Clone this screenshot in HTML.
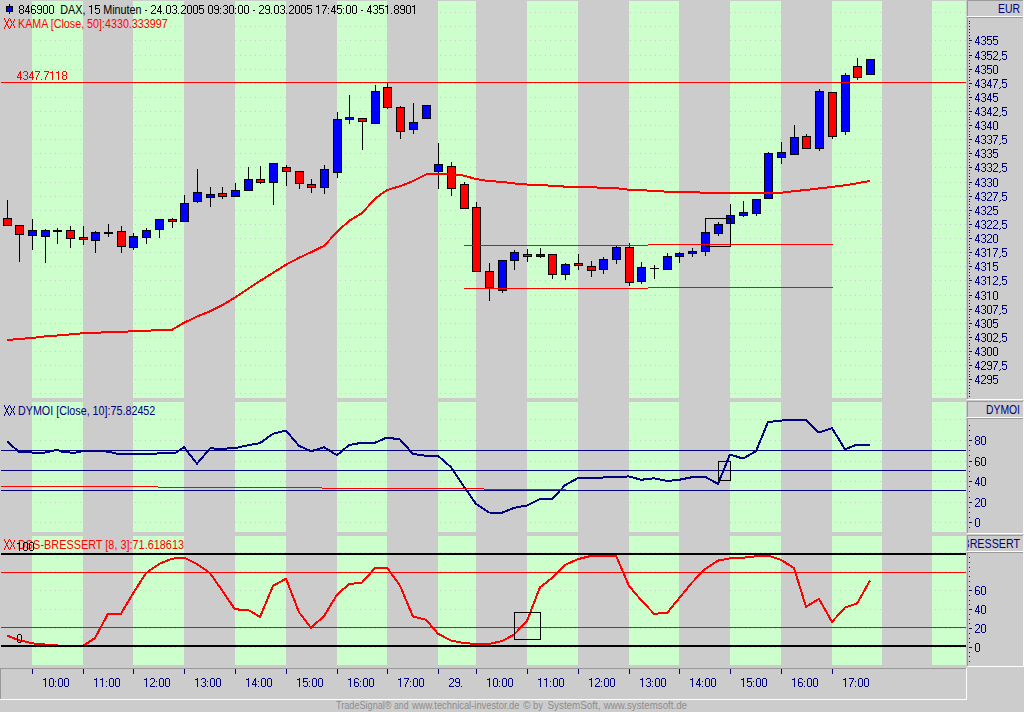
<!DOCTYPE html>
<html><head><meta charset="utf-8"><style>html,body{margin:0;padding:0;background:#cccccc;overflow:hidden}svg{display:block}text{font-family:"Liberation Sans",sans-serif}</style></head>
<body><svg width="1024" height="712" viewBox="0 0 1024 712" shape-rendering="crispEdges" font-family="Liberation Sans, sans-serif"><rect x="0" y="0" width="1024" height="712" fill="#cccccc"/>
<rect x="32" y="1" width="51" height="397" fill="#ccffcc"/>
<rect x="133" y="1" width="51" height="397" fill="#ccffcc"/>
<rect x="235" y="1" width="51" height="397" fill="#ccffcc"/>
<rect x="337" y="1" width="50" height="397" fill="#ccffcc"/>
<rect x="438" y="1" width="38" height="397" fill="#ccffcc"/>
<rect x="527" y="1" width="51" height="397" fill="#ccffcc"/>
<rect x="629" y="1" width="50" height="397" fill="#ccffcc"/>
<rect x="730" y="1" width="51" height="397" fill="#ccffcc"/>
<rect x="832" y="1" width="50" height="397" fill="#ccffcc"/>
<rect x="932" y="1" width="34" height="397" fill="#ccffcc"/>
<rect x="32" y="402" width="51" height="130" fill="#ccffcc"/>
<rect x="133" y="402" width="51" height="130" fill="#ccffcc"/>
<rect x="235" y="402" width="51" height="130" fill="#ccffcc"/>
<rect x="337" y="402" width="50" height="130" fill="#ccffcc"/>
<rect x="438" y="402" width="38" height="130" fill="#ccffcc"/>
<rect x="527" y="402" width="51" height="130" fill="#ccffcc"/>
<rect x="629" y="402" width="50" height="130" fill="#ccffcc"/>
<rect x="730" y="402" width="51" height="130" fill="#ccffcc"/>
<rect x="832" y="402" width="50" height="130" fill="#ccffcc"/>
<rect x="932" y="402" width="34" height="130" fill="#ccffcc"/>
<rect x="32" y="536" width="51" height="129" fill="#ccffcc"/>
<rect x="133" y="536" width="51" height="129" fill="#ccffcc"/>
<rect x="235" y="536" width="51" height="129" fill="#ccffcc"/>
<rect x="337" y="536" width="50" height="129" fill="#ccffcc"/>
<rect x="438" y="536" width="38" height="129" fill="#ccffcc"/>
<rect x="527" y="536" width="51" height="129" fill="#ccffcc"/>
<rect x="629" y="536" width="50" height="129" fill="#ccffcc"/>
<rect x="730" y="536" width="51" height="129" fill="#ccffcc"/>
<rect x="832" y="536" width="50" height="129" fill="#ccffcc"/>
<rect x="932" y="536" width="34" height="129" fill="#ccffcc"/>
<line x1="0" y1="12.5" x2="966" y2="12.5" stroke="#cccccc" stroke-width="1" stroke-dasharray="1 4"/>
<line x1="0" y1="26.5" x2="966" y2="26.5" stroke="#cccccc" stroke-width="1" stroke-dasharray="1 4"/>
<line x1="0" y1="40.5" x2="966" y2="40.5" stroke="#cccccc" stroke-width="1" stroke-dasharray="1 4"/>
<line x1="0" y1="55.5" x2="966" y2="55.5" stroke="#cccccc" stroke-width="1" stroke-dasharray="1 4"/>
<line x1="0" y1="69.5" x2="966" y2="69.5" stroke="#cccccc" stroke-width="1" stroke-dasharray="1 4"/>
<line x1="0" y1="83.5" x2="966" y2="83.5" stroke="#cccccc" stroke-width="1" stroke-dasharray="1 4"/>
<line x1="0" y1="97.5" x2="966" y2="97.5" stroke="#cccccc" stroke-width="1" stroke-dasharray="1 4"/>
<line x1="0" y1="111.5" x2="966" y2="111.5" stroke="#cccccc" stroke-width="1" stroke-dasharray="1 4"/>
<line x1="0" y1="125.5" x2="966" y2="125.5" stroke="#cccccc" stroke-width="1" stroke-dasharray="1 4"/>
<line x1="0" y1="139.5" x2="966" y2="139.5" stroke="#cccccc" stroke-width="1" stroke-dasharray="1 4"/>
<line x1="0" y1="153.5" x2="966" y2="153.5" stroke="#cccccc" stroke-width="1" stroke-dasharray="1 4"/>
<line x1="0" y1="167.5" x2="966" y2="167.5" stroke="#cccccc" stroke-width="1" stroke-dasharray="1 4"/>
<line x1="0" y1="182.5" x2="966" y2="182.5" stroke="#cccccc" stroke-width="1" stroke-dasharray="1 4"/>
<line x1="0" y1="196.5" x2="966" y2="196.5" stroke="#cccccc" stroke-width="1" stroke-dasharray="1 4"/>
<line x1="0" y1="210.5" x2="966" y2="210.5" stroke="#cccccc" stroke-width="1" stroke-dasharray="1 4"/>
<line x1="0" y1="224.5" x2="966" y2="224.5" stroke="#cccccc" stroke-width="1" stroke-dasharray="1 4"/>
<line x1="0" y1="238.5" x2="966" y2="238.5" stroke="#cccccc" stroke-width="1" stroke-dasharray="1 4"/>
<line x1="0" y1="252.5" x2="966" y2="252.5" stroke="#cccccc" stroke-width="1" stroke-dasharray="1 4"/>
<line x1="0" y1="266.5" x2="966" y2="266.5" stroke="#cccccc" stroke-width="1" stroke-dasharray="1 4"/>
<line x1="0" y1="280.5" x2="966" y2="280.5" stroke="#cccccc" stroke-width="1" stroke-dasharray="1 4"/>
<line x1="0" y1="295.5" x2="966" y2="295.5" stroke="#cccccc" stroke-width="1" stroke-dasharray="1 4"/>
<line x1="0" y1="309.5" x2="966" y2="309.5" stroke="#cccccc" stroke-width="1" stroke-dasharray="1 4"/>
<line x1="0" y1="323.5" x2="966" y2="323.5" stroke="#cccccc" stroke-width="1" stroke-dasharray="1 4"/>
<line x1="0" y1="337.5" x2="966" y2="337.5" stroke="#cccccc" stroke-width="1" stroke-dasharray="1 4"/>
<line x1="0" y1="351.5" x2="966" y2="351.5" stroke="#cccccc" stroke-width="1" stroke-dasharray="1 4"/>
<line x1="0" y1="365.5" x2="966" y2="365.5" stroke="#cccccc" stroke-width="1" stroke-dasharray="1 4"/>
<line x1="0" y1="379.5" x2="966" y2="379.5" stroke="#cccccc" stroke-width="1" stroke-dasharray="1 4"/>
<line x1="0" y1="393.5" x2="966" y2="393.5" stroke="#cccccc" stroke-width="1" stroke-dasharray="1 4"/>
<line x1="0" y1="522.5" x2="966" y2="522.5" stroke="#cccccc" stroke-width="1" stroke-dasharray="1 4"/>
<line x1="0" y1="502.5" x2="966" y2="502.5" stroke="#cccccc" stroke-width="1" stroke-dasharray="1 4"/>
<line x1="0" y1="481.5" x2="966" y2="481.5" stroke="#cccccc" stroke-width="1" stroke-dasharray="1 4"/>
<line x1="0" y1="461.5" x2="966" y2="461.5" stroke="#cccccc" stroke-width="1" stroke-dasharray="1 4"/>
<line x1="0" y1="440.5" x2="966" y2="440.5" stroke="#cccccc" stroke-width="1" stroke-dasharray="1 4"/>
<line x1="0" y1="419.5" x2="966" y2="419.5" stroke="#cccccc" stroke-width="1" stroke-dasharray="1 4"/>
<line x1="0" y1="647.5" x2="966" y2="647.5" stroke="#cccccc" stroke-width="1" stroke-dasharray="1 4"/>
<line x1="0" y1="628.5" x2="966" y2="628.5" stroke="#cccccc" stroke-width="1" stroke-dasharray="1 4"/>
<line x1="0" y1="609.5" x2="966" y2="609.5" stroke="#cccccc" stroke-width="1" stroke-dasharray="1 4"/>
<line x1="0" y1="590.5" x2="966" y2="590.5" stroke="#cccccc" stroke-width="1" stroke-dasharray="1 4"/>
<line x1="0" y1="571.5" x2="966" y2="571.5" stroke="#cccccc" stroke-width="1" stroke-dasharray="1 4"/>
<line x1="0" y1="552.5" x2="966" y2="552.5" stroke="#cccccc" stroke-width="1" stroke-dasharray="1 4"/>
<rect x="967" y="0" width="57" height="1" fill="#999999"/>
<rect x="967" y="0" width="1" height="17" fill="#999999"/>
<rect x="967" y="16" width="57" height="1" fill="#ffffff"/>
<rect x="1023" y="0" width="1" height="17" fill="#ffffff"/>
<rect x="967" y="17" width="57" height="1" fill="#999999"/>
<rect x="967" y="17" width="1" height="383" fill="#999999"/>
<rect x="967" y="399" width="57" height="1" fill="#ffffff"/>
<rect x="1023" y="17" width="1" height="383" fill="#ffffff"/>
<rect x="967" y="401" width="57" height="1" fill="#999999"/>
<rect x="967" y="401" width="1" height="17" fill="#999999"/>
<rect x="967" y="417" width="57" height="1" fill="#ffffff"/>
<rect x="1023" y="401" width="1" height="17" fill="#ffffff"/>
<rect x="967" y="418" width="57" height="1" fill="#999999"/>
<rect x="967" y="418" width="1" height="116" fill="#999999"/>
<rect x="967" y="533" width="57" height="1" fill="#ffffff"/>
<rect x="1023" y="418" width="1" height="116" fill="#ffffff"/>
<rect x="967" y="535" width="57" height="1" fill="#999999"/>
<rect x="967" y="535" width="1" height="17" fill="#999999"/>
<rect x="967" y="551" width="57" height="1" fill="#ffffff"/>
<rect x="1023" y="535" width="1" height="17" fill="#ffffff"/>
<rect x="967" y="552" width="57" height="1" fill="#999999"/>
<rect x="967" y="552" width="1" height="115" fill="#999999"/>
<rect x="967" y="666" width="57" height="1" fill="#ffffff"/>
<rect x="1023" y="552" width="1" height="115" fill="#ffffff"/>
<rect x="0" y="668" width="967" height="1" fill="#999999"/>
<rect x="0" y="668" width="1" height="32" fill="#999999"/>
<rect x="0" y="699" width="967" height="1" fill="#ffffff"/>
<rect x="966" y="668" width="1" height="32" fill="#ffffff"/>
<text x="1020" y="13" fill="#000080" font-size="13" text-anchor="end" textLength="22" lengthAdjust="spacingAndGlyphs" filter="url(#crisp)">EUR</text>
<text x="1020" y="414" fill="#000080" font-size="13" text-anchor="end" textLength="34" lengthAdjust="spacingAndGlyphs" filter="url(#crisp)">DYMOI</text>
<clipPath id="cb"><rect x="968" y="536" width="55" height="15"/></clipPath>
<text x="1020" y="548" fill="#000080" font-size="13" text-anchor="end" textLength="57.5" lengthAdjust="spacingAndGlyphs" clip-path="url(#cb)" filter="url(#crisp)">BRESSERT</text>
<rect x="969" y="21" width="1" height="1" fill="#000080"/>
<rect x="969" y="23" width="1" height="1" fill="#000080"/>
<rect x="969" y="26" width="1" height="1" fill="#000080"/>
<rect x="969" y="29" width="1" height="1" fill="#000080"/>
<rect x="969" y="32" width="1" height="1" fill="#000080"/>
<rect x="969" y="35" width="1" height="1" fill="#000080"/>
<rect x="969" y="38" width="1" height="1" fill="#000080"/>
<rect x="969" y="40" width="1" height="1" fill="#000080"/>
<rect x="969" y="43" width="1" height="1" fill="#000080"/>
<rect x="969" y="46" width="1" height="1" fill="#000080"/>
<rect x="969" y="49" width="1" height="1" fill="#000080"/>
<rect x="969" y="52" width="1" height="1" fill="#000080"/>
<rect x="969" y="55" width="1" height="1" fill="#000080"/>
<rect x="969" y="57" width="1" height="1" fill="#000080"/>
<rect x="969" y="60" width="1" height="1" fill="#000080"/>
<rect x="969" y="63" width="1" height="1" fill="#000080"/>
<rect x="969" y="66" width="1" height="1" fill="#000080"/>
<rect x="969" y="69" width="1" height="1" fill="#000080"/>
<rect x="969" y="71" width="1" height="1" fill="#000080"/>
<rect x="969" y="74" width="1" height="1" fill="#000080"/>
<rect x="969" y="77" width="1" height="1" fill="#000080"/>
<rect x="969" y="80" width="1" height="1" fill="#000080"/>
<rect x="969" y="83" width="1" height="1" fill="#000080"/>
<rect x="969" y="86" width="1" height="1" fill="#000080"/>
<rect x="969" y="88" width="1" height="1" fill="#000080"/>
<rect x="969" y="91" width="1" height="1" fill="#000080"/>
<rect x="969" y="94" width="1" height="1" fill="#000080"/>
<rect x="969" y="97" width="1" height="1" fill="#000080"/>
<rect x="969" y="100" width="1" height="1" fill="#000080"/>
<rect x="969" y="103" width="1" height="1" fill="#000080"/>
<rect x="969" y="105" width="1" height="1" fill="#000080"/>
<rect x="969" y="108" width="1" height="1" fill="#000080"/>
<rect x="969" y="111" width="1" height="1" fill="#000080"/>
<rect x="969" y="114" width="1" height="1" fill="#000080"/>
<rect x="969" y="117" width="1" height="1" fill="#000080"/>
<rect x="969" y="119" width="1" height="1" fill="#000080"/>
<rect x="969" y="122" width="1" height="1" fill="#000080"/>
<rect x="969" y="125" width="1" height="1" fill="#000080"/>
<rect x="969" y="128" width="1" height="1" fill="#000080"/>
<rect x="969" y="131" width="1" height="1" fill="#000080"/>
<rect x="969" y="134" width="1" height="1" fill="#000080"/>
<rect x="969" y="136" width="1" height="1" fill="#000080"/>
<rect x="969" y="139" width="1" height="1" fill="#000080"/>
<rect x="969" y="142" width="1" height="1" fill="#000080"/>
<rect x="969" y="145" width="1" height="1" fill="#000080"/>
<rect x="969" y="148" width="1" height="1" fill="#000080"/>
<rect x="969" y="151" width="1" height="1" fill="#000080"/>
<rect x="969" y="153" width="1" height="1" fill="#000080"/>
<rect x="969" y="156" width="1" height="1" fill="#000080"/>
<rect x="969" y="159" width="1" height="1" fill="#000080"/>
<rect x="969" y="162" width="1" height="1" fill="#000080"/>
<rect x="969" y="165" width="1" height="1" fill="#000080"/>
<rect x="969" y="167" width="1" height="1" fill="#000080"/>
<rect x="969" y="170" width="1" height="1" fill="#000080"/>
<rect x="969" y="173" width="1" height="1" fill="#000080"/>
<rect x="969" y="176" width="1" height="1" fill="#000080"/>
<rect x="969" y="179" width="1" height="1" fill="#000080"/>
<rect x="969" y="182" width="1" height="1" fill="#000080"/>
<rect x="969" y="184" width="1" height="1" fill="#000080"/>
<rect x="969" y="187" width="1" height="1" fill="#000080"/>
<rect x="969" y="190" width="1" height="1" fill="#000080"/>
<rect x="969" y="193" width="1" height="1" fill="#000080"/>
<rect x="969" y="196" width="1" height="1" fill="#000080"/>
<rect x="969" y="199" width="1" height="1" fill="#000080"/>
<rect x="969" y="201" width="1" height="1" fill="#000080"/>
<rect x="969" y="204" width="1" height="1" fill="#000080"/>
<rect x="969" y="207" width="1" height="1" fill="#000080"/>
<rect x="969" y="210" width="1" height="1" fill="#000080"/>
<rect x="969" y="213" width="1" height="1" fill="#000080"/>
<rect x="969" y="215" width="1" height="1" fill="#000080"/>
<rect x="969" y="218" width="1" height="1" fill="#000080"/>
<rect x="969" y="221" width="1" height="1" fill="#000080"/>
<rect x="969" y="224" width="1" height="1" fill="#000080"/>
<rect x="969" y="227" width="1" height="1" fill="#000080"/>
<rect x="969" y="230" width="1" height="1" fill="#000080"/>
<rect x="969" y="232" width="1" height="1" fill="#000080"/>
<rect x="969" y="235" width="1" height="1" fill="#000080"/>
<rect x="969" y="238" width="1" height="1" fill="#000080"/>
<rect x="969" y="241" width="1" height="1" fill="#000080"/>
<rect x="969" y="244" width="1" height="1" fill="#000080"/>
<rect x="969" y="247" width="1" height="1" fill="#000080"/>
<rect x="969" y="249" width="1" height="1" fill="#000080"/>
<rect x="969" y="252" width="1" height="1" fill="#000080"/>
<rect x="969" y="255" width="1" height="1" fill="#000080"/>
<rect x="969" y="258" width="1" height="1" fill="#000080"/>
<rect x="969" y="261" width="1" height="1" fill="#000080"/>
<rect x="969" y="263" width="1" height="1" fill="#000080"/>
<rect x="969" y="266" width="1" height="1" fill="#000080"/>
<rect x="969" y="269" width="1" height="1" fill="#000080"/>
<rect x="969" y="272" width="1" height="1" fill="#000080"/>
<rect x="969" y="275" width="1" height="1" fill="#000080"/>
<rect x="969" y="278" width="1" height="1" fill="#000080"/>
<rect x="969" y="280" width="1" height="1" fill="#000080"/>
<rect x="969" y="283" width="1" height="1" fill="#000080"/>
<rect x="969" y="286" width="1" height="1" fill="#000080"/>
<rect x="969" y="289" width="1" height="1" fill="#000080"/>
<rect x="969" y="292" width="1" height="1" fill="#000080"/>
<rect x="969" y="295" width="1" height="1" fill="#000080"/>
<rect x="969" y="297" width="1" height="1" fill="#000080"/>
<rect x="969" y="300" width="1" height="1" fill="#000080"/>
<rect x="969" y="303" width="1" height="1" fill="#000080"/>
<rect x="969" y="306" width="1" height="1" fill="#000080"/>
<rect x="969" y="309" width="1" height="1" fill="#000080"/>
<rect x="969" y="311" width="1" height="1" fill="#000080"/>
<rect x="969" y="314" width="1" height="1" fill="#000080"/>
<rect x="969" y="317" width="1" height="1" fill="#000080"/>
<rect x="969" y="320" width="1" height="1" fill="#000080"/>
<rect x="969" y="323" width="1" height="1" fill="#000080"/>
<rect x="969" y="326" width="1" height="1" fill="#000080"/>
<rect x="969" y="328" width="1" height="1" fill="#000080"/>
<rect x="969" y="331" width="1" height="1" fill="#000080"/>
<rect x="969" y="334" width="1" height="1" fill="#000080"/>
<rect x="969" y="337" width="1" height="1" fill="#000080"/>
<rect x="969" y="340" width="1" height="1" fill="#000080"/>
<rect x="969" y="343" width="1" height="1" fill="#000080"/>
<rect x="969" y="345" width="1" height="1" fill="#000080"/>
<rect x="969" y="348" width="1" height="1" fill="#000080"/>
<rect x="969" y="351" width="1" height="1" fill="#000080"/>
<rect x="969" y="354" width="1" height="1" fill="#000080"/>
<rect x="969" y="357" width="1" height="1" fill="#000080"/>
<rect x="969" y="359" width="1" height="1" fill="#000080"/>
<rect x="969" y="362" width="1" height="1" fill="#000080"/>
<rect x="969" y="365" width="1" height="1" fill="#000080"/>
<rect x="969" y="368" width="1" height="1" fill="#000080"/>
<rect x="969" y="371" width="1" height="1" fill="#000080"/>
<rect x="969" y="374" width="1" height="1" fill="#000080"/>
<rect x="969" y="376" width="1" height="1" fill="#000080"/>
<rect x="969" y="379" width="1" height="1" fill="#000080"/>
<rect x="969" y="382" width="1" height="1" fill="#000080"/>
<rect x="969" y="385" width="1" height="1" fill="#000080"/>
<rect x="969" y="388" width="1" height="1" fill="#000080"/>
<rect x="969" y="391" width="1" height="1" fill="#000080"/>
<rect x="969" y="393" width="1" height="1" fill="#000080"/>
<rect x="969" y="396" width="1" height="1" fill="#000080"/>
<rect x="969" y="40" width="3" height="1" fill="#000080"/>
<path d="M978,36h1v1h-1zM977,37h2v1h-2zM977,38h2v1h-2zM976,39h1v1h-1zM978,39h1v1h-1zM976,40h1v1h-1zM978,40h1v1h-1zM975,41h1v1h-1zM978,41h1v1h-1zM975,42h5v1h-5zM978,43h1v1h-1zM978,44h1v1h-1zM982,36h3v1h-3zM981,37h1v1h-1zM985,37h1v1h-1zM985,38h1v1h-1zM985,39h1v1h-1zM983,40h2v1h-2zM985,41h1v1h-1zM985,42h1v1h-1zM981,43h1v1h-1zM985,43h1v1h-1zM982,44h3v1h-3zM987,36h5v1h-5zM987,37h1v1h-1zM987,38h1v1h-1zM987,39h4v1h-4zM987,40h1v1h-1zM991,40h1v1h-1zM991,41h1v1h-1zM991,42h1v1h-1zM987,43h1v1h-1zM991,43h1v1h-1zM988,44h3v1h-3zM993,36h5v1h-5zM993,37h1v1h-1zM993,38h1v1h-1zM993,39h4v1h-4zM993,40h1v1h-1zM997,40h1v1h-1zM997,41h1v1h-1zM997,42h1v1h-1zM993,43h1v1h-1zM997,43h1v1h-1zM994,44h3v1h-3z" fill="#000080"/>
<rect x="969" y="55" width="3" height="1" fill="#000080"/>
<path d="M978,51h1v1h-1zM977,52h2v1h-2zM977,53h2v1h-2zM976,54h1v1h-1zM978,54h1v1h-1zM976,55h1v1h-1zM978,55h1v1h-1zM975,56h1v1h-1zM978,56h1v1h-1zM975,57h5v1h-5zM978,58h1v1h-1zM978,59h1v1h-1zM982,51h3v1h-3zM981,52h1v1h-1zM985,52h1v1h-1zM985,53h1v1h-1zM985,54h1v1h-1zM983,55h2v1h-2zM985,56h1v1h-1zM985,57h1v1h-1zM981,58h1v1h-1zM985,58h1v1h-1zM982,59h3v1h-3zM987,51h5v1h-5zM987,52h1v1h-1zM987,53h1v1h-1zM987,54h4v1h-4zM987,55h1v1h-1zM991,55h1v1h-1zM991,56h1v1h-1zM991,57h1v1h-1zM987,58h1v1h-1zM991,58h1v1h-1zM988,59h3v1h-3zM994,51h3v1h-3zM993,52h1v1h-1zM997,52h1v1h-1zM997,53h1v1h-1zM997,54h1v1h-1zM996,55h1v1h-1zM995,56h1v1h-1zM994,57h1v1h-1zM993,58h1v1h-1zM993,59h5v1h-5zM1000,59h1v1h-1zM999,60h1v1h-1zM1002,51h5v1h-5zM1002,52h1v1h-1zM1002,53h1v1h-1zM1002,54h4v1h-4zM1002,55h1v1h-1zM1006,55h1v1h-1zM1006,56h1v1h-1zM1006,57h1v1h-1zM1002,58h1v1h-1zM1006,58h1v1h-1zM1003,59h3v1h-3z" fill="#000080"/>
<rect x="969" y="69" width="3" height="1" fill="#000080"/>
<path d="M978,65h1v1h-1zM977,66h2v1h-2zM977,67h2v1h-2zM976,68h1v1h-1zM978,68h1v1h-1zM976,69h1v1h-1zM978,69h1v1h-1zM975,70h1v1h-1zM978,70h1v1h-1zM975,71h5v1h-5zM978,72h1v1h-1zM978,73h1v1h-1zM982,65h3v1h-3zM981,66h1v1h-1zM985,66h1v1h-1zM985,67h1v1h-1zM985,68h1v1h-1zM983,69h2v1h-2zM985,70h1v1h-1zM985,71h1v1h-1zM981,72h1v1h-1zM985,72h1v1h-1zM982,73h3v1h-3zM987,65h5v1h-5zM987,66h1v1h-1zM987,67h1v1h-1zM987,68h4v1h-4zM987,69h1v1h-1zM991,69h1v1h-1zM991,70h1v1h-1zM991,71h1v1h-1zM987,72h1v1h-1zM991,72h1v1h-1zM988,73h3v1h-3zM994,65h3v1h-3zM993,66h1v1h-1zM997,66h1v1h-1zM993,67h1v1h-1zM997,67h1v1h-1zM993,68h1v1h-1zM997,68h1v1h-1zM993,69h1v1h-1zM997,69h1v1h-1zM993,70h1v1h-1zM997,70h1v1h-1zM993,71h1v1h-1zM997,71h1v1h-1zM993,72h1v1h-1zM997,72h1v1h-1zM994,73h3v1h-3z" fill="#000080"/>
<rect x="969" y="83" width="3" height="1" fill="#000080"/>
<path d="M978,79h1v1h-1zM977,80h2v1h-2zM977,81h2v1h-2zM976,82h1v1h-1zM978,82h1v1h-1zM976,83h1v1h-1zM978,83h1v1h-1zM975,84h1v1h-1zM978,84h1v1h-1zM975,85h5v1h-5zM978,86h1v1h-1zM978,87h1v1h-1zM982,79h3v1h-3zM981,80h1v1h-1zM985,80h1v1h-1zM985,81h1v1h-1zM985,82h1v1h-1zM983,83h2v1h-2zM985,84h1v1h-1zM985,85h1v1h-1zM981,86h1v1h-1zM985,86h1v1h-1zM982,87h3v1h-3zM990,79h1v1h-1zM989,80h2v1h-2zM989,81h2v1h-2zM988,82h1v1h-1zM990,82h1v1h-1zM988,83h1v1h-1zM990,83h1v1h-1zM987,84h1v1h-1zM990,84h1v1h-1zM987,85h5v1h-5zM990,86h1v1h-1zM990,87h1v1h-1zM993,79h5v1h-5zM997,80h1v1h-1zM996,81h1v1h-1zM996,82h1v1h-1zM995,83h1v1h-1zM995,84h1v1h-1zM994,85h1v1h-1zM994,86h1v1h-1zM994,87h1v1h-1zM1000,87h1v1h-1zM999,88h1v1h-1zM1002,79h5v1h-5zM1002,80h1v1h-1zM1002,81h1v1h-1zM1002,82h4v1h-4zM1002,83h1v1h-1zM1006,83h1v1h-1zM1006,84h1v1h-1zM1006,85h1v1h-1zM1002,86h1v1h-1zM1006,86h1v1h-1zM1003,87h3v1h-3z" fill="#000080"/>
<rect x="969" y="97" width="3" height="1" fill="#000080"/>
<path d="M978,93h1v1h-1zM977,94h2v1h-2zM977,95h2v1h-2zM976,96h1v1h-1zM978,96h1v1h-1zM976,97h1v1h-1zM978,97h1v1h-1zM975,98h1v1h-1zM978,98h1v1h-1zM975,99h5v1h-5zM978,100h1v1h-1zM978,101h1v1h-1zM982,93h3v1h-3zM981,94h1v1h-1zM985,94h1v1h-1zM985,95h1v1h-1zM985,96h1v1h-1zM983,97h2v1h-2zM985,98h1v1h-1zM985,99h1v1h-1zM981,100h1v1h-1zM985,100h1v1h-1zM982,101h3v1h-3zM990,93h1v1h-1zM989,94h2v1h-2zM989,95h2v1h-2zM988,96h1v1h-1zM990,96h1v1h-1zM988,97h1v1h-1zM990,97h1v1h-1zM987,98h1v1h-1zM990,98h1v1h-1zM987,99h5v1h-5zM990,100h1v1h-1zM990,101h1v1h-1zM993,93h5v1h-5zM993,94h1v1h-1zM993,95h1v1h-1zM993,96h4v1h-4zM993,97h1v1h-1zM997,97h1v1h-1zM997,98h1v1h-1zM997,99h1v1h-1zM993,100h1v1h-1zM997,100h1v1h-1zM994,101h3v1h-3z" fill="#000080"/>
<rect x="969" y="111" width="3" height="1" fill="#000080"/>
<path d="M978,107h1v1h-1zM977,108h2v1h-2zM977,109h2v1h-2zM976,110h1v1h-1zM978,110h1v1h-1zM976,111h1v1h-1zM978,111h1v1h-1zM975,112h1v1h-1zM978,112h1v1h-1zM975,113h5v1h-5zM978,114h1v1h-1zM978,115h1v1h-1zM982,107h3v1h-3zM981,108h1v1h-1zM985,108h1v1h-1zM985,109h1v1h-1zM985,110h1v1h-1zM983,111h2v1h-2zM985,112h1v1h-1zM985,113h1v1h-1zM981,114h1v1h-1zM985,114h1v1h-1zM982,115h3v1h-3zM990,107h1v1h-1zM989,108h2v1h-2zM989,109h2v1h-2zM988,110h1v1h-1zM990,110h1v1h-1zM988,111h1v1h-1zM990,111h1v1h-1zM987,112h1v1h-1zM990,112h1v1h-1zM987,113h5v1h-5zM990,114h1v1h-1zM990,115h1v1h-1zM994,107h3v1h-3zM993,108h1v1h-1zM997,108h1v1h-1zM997,109h1v1h-1zM997,110h1v1h-1zM996,111h1v1h-1zM995,112h1v1h-1zM994,113h1v1h-1zM993,114h1v1h-1zM993,115h5v1h-5zM1000,115h1v1h-1zM999,116h1v1h-1zM1002,107h5v1h-5zM1002,108h1v1h-1zM1002,109h1v1h-1zM1002,110h4v1h-4zM1002,111h1v1h-1zM1006,111h1v1h-1zM1006,112h1v1h-1zM1006,113h1v1h-1zM1002,114h1v1h-1zM1006,114h1v1h-1zM1003,115h3v1h-3z" fill="#000080"/>
<rect x="969" y="125" width="3" height="1" fill="#000080"/>
<path d="M978,121h1v1h-1zM977,122h2v1h-2zM977,123h2v1h-2zM976,124h1v1h-1zM978,124h1v1h-1zM976,125h1v1h-1zM978,125h1v1h-1zM975,126h1v1h-1zM978,126h1v1h-1zM975,127h5v1h-5zM978,128h1v1h-1zM978,129h1v1h-1zM982,121h3v1h-3zM981,122h1v1h-1zM985,122h1v1h-1zM985,123h1v1h-1zM985,124h1v1h-1zM983,125h2v1h-2zM985,126h1v1h-1zM985,127h1v1h-1zM981,128h1v1h-1zM985,128h1v1h-1zM982,129h3v1h-3zM990,121h1v1h-1zM989,122h2v1h-2zM989,123h2v1h-2zM988,124h1v1h-1zM990,124h1v1h-1zM988,125h1v1h-1zM990,125h1v1h-1zM987,126h1v1h-1zM990,126h1v1h-1zM987,127h5v1h-5zM990,128h1v1h-1zM990,129h1v1h-1zM994,121h3v1h-3zM993,122h1v1h-1zM997,122h1v1h-1zM993,123h1v1h-1zM997,123h1v1h-1zM993,124h1v1h-1zM997,124h1v1h-1zM993,125h1v1h-1zM997,125h1v1h-1zM993,126h1v1h-1zM997,126h1v1h-1zM993,127h1v1h-1zM997,127h1v1h-1zM993,128h1v1h-1zM997,128h1v1h-1zM994,129h3v1h-3z" fill="#000080"/>
<rect x="969" y="139" width="3" height="1" fill="#000080"/>
<path d="M978,135h1v1h-1zM977,136h2v1h-2zM977,137h2v1h-2zM976,138h1v1h-1zM978,138h1v1h-1zM976,139h1v1h-1zM978,139h1v1h-1zM975,140h1v1h-1zM978,140h1v1h-1zM975,141h5v1h-5zM978,142h1v1h-1zM978,143h1v1h-1zM982,135h3v1h-3zM981,136h1v1h-1zM985,136h1v1h-1zM985,137h1v1h-1zM985,138h1v1h-1zM983,139h2v1h-2zM985,140h1v1h-1zM985,141h1v1h-1zM981,142h1v1h-1zM985,142h1v1h-1zM982,143h3v1h-3zM988,135h3v1h-3zM987,136h1v1h-1zM991,136h1v1h-1zM991,137h1v1h-1zM991,138h1v1h-1zM989,139h2v1h-2zM991,140h1v1h-1zM991,141h1v1h-1zM987,142h1v1h-1zM991,142h1v1h-1zM988,143h3v1h-3zM993,135h5v1h-5zM997,136h1v1h-1zM996,137h1v1h-1zM996,138h1v1h-1zM995,139h1v1h-1zM995,140h1v1h-1zM994,141h1v1h-1zM994,142h1v1h-1zM994,143h1v1h-1zM1000,143h1v1h-1zM999,144h1v1h-1zM1002,135h5v1h-5zM1002,136h1v1h-1zM1002,137h1v1h-1zM1002,138h4v1h-4zM1002,139h1v1h-1zM1006,139h1v1h-1zM1006,140h1v1h-1zM1006,141h1v1h-1zM1002,142h1v1h-1zM1006,142h1v1h-1zM1003,143h3v1h-3z" fill="#000080"/>
<rect x="969" y="153" width="3" height="1" fill="#000080"/>
<path d="M978,149h1v1h-1zM977,150h2v1h-2zM977,151h2v1h-2zM976,152h1v1h-1zM978,152h1v1h-1zM976,153h1v1h-1zM978,153h1v1h-1zM975,154h1v1h-1zM978,154h1v1h-1zM975,155h5v1h-5zM978,156h1v1h-1zM978,157h1v1h-1zM982,149h3v1h-3zM981,150h1v1h-1zM985,150h1v1h-1zM985,151h1v1h-1zM985,152h1v1h-1zM983,153h2v1h-2zM985,154h1v1h-1zM985,155h1v1h-1zM981,156h1v1h-1zM985,156h1v1h-1zM982,157h3v1h-3zM988,149h3v1h-3zM987,150h1v1h-1zM991,150h1v1h-1zM991,151h1v1h-1zM991,152h1v1h-1zM989,153h2v1h-2zM991,154h1v1h-1zM991,155h1v1h-1zM987,156h1v1h-1zM991,156h1v1h-1zM988,157h3v1h-3zM993,149h5v1h-5zM993,150h1v1h-1zM993,151h1v1h-1zM993,152h4v1h-4zM993,153h1v1h-1zM997,153h1v1h-1zM997,154h1v1h-1zM997,155h1v1h-1zM993,156h1v1h-1zM997,156h1v1h-1zM994,157h3v1h-3z" fill="#000080"/>
<rect x="969" y="167" width="3" height="1" fill="#000080"/>
<path d="M978,163h1v1h-1zM977,164h2v1h-2zM977,165h2v1h-2zM976,166h1v1h-1zM978,166h1v1h-1zM976,167h1v1h-1zM978,167h1v1h-1zM975,168h1v1h-1zM978,168h1v1h-1zM975,169h5v1h-5zM978,170h1v1h-1zM978,171h1v1h-1zM982,163h3v1h-3zM981,164h1v1h-1zM985,164h1v1h-1zM985,165h1v1h-1zM985,166h1v1h-1zM983,167h2v1h-2zM985,168h1v1h-1zM985,169h1v1h-1zM981,170h1v1h-1zM985,170h1v1h-1zM982,171h3v1h-3zM988,163h3v1h-3zM987,164h1v1h-1zM991,164h1v1h-1zM991,165h1v1h-1zM991,166h1v1h-1zM989,167h2v1h-2zM991,168h1v1h-1zM991,169h1v1h-1zM987,170h1v1h-1zM991,170h1v1h-1zM988,171h3v1h-3zM994,163h3v1h-3zM993,164h1v1h-1zM997,164h1v1h-1zM997,165h1v1h-1zM997,166h1v1h-1zM996,167h1v1h-1zM995,168h1v1h-1zM994,169h1v1h-1zM993,170h1v1h-1zM993,171h5v1h-5zM1000,171h1v1h-1zM999,172h1v1h-1zM1002,163h5v1h-5zM1002,164h1v1h-1zM1002,165h1v1h-1zM1002,166h4v1h-4zM1002,167h1v1h-1zM1006,167h1v1h-1zM1006,168h1v1h-1zM1006,169h1v1h-1zM1002,170h1v1h-1zM1006,170h1v1h-1zM1003,171h3v1h-3z" fill="#000080"/>
<rect x="969" y="182" width="3" height="1" fill="#000080"/>
<path d="M978,178h1v1h-1zM977,179h2v1h-2zM977,180h2v1h-2zM976,181h1v1h-1zM978,181h1v1h-1zM976,182h1v1h-1zM978,182h1v1h-1zM975,183h1v1h-1zM978,183h1v1h-1zM975,184h5v1h-5zM978,185h1v1h-1zM978,186h1v1h-1zM982,178h3v1h-3zM981,179h1v1h-1zM985,179h1v1h-1zM985,180h1v1h-1zM985,181h1v1h-1zM983,182h2v1h-2zM985,183h1v1h-1zM985,184h1v1h-1zM981,185h1v1h-1zM985,185h1v1h-1zM982,186h3v1h-3zM988,178h3v1h-3zM987,179h1v1h-1zM991,179h1v1h-1zM991,180h1v1h-1zM991,181h1v1h-1zM989,182h2v1h-2zM991,183h1v1h-1zM991,184h1v1h-1zM987,185h1v1h-1zM991,185h1v1h-1zM988,186h3v1h-3zM994,178h3v1h-3zM993,179h1v1h-1zM997,179h1v1h-1zM993,180h1v1h-1zM997,180h1v1h-1zM993,181h1v1h-1zM997,181h1v1h-1zM993,182h1v1h-1zM997,182h1v1h-1zM993,183h1v1h-1zM997,183h1v1h-1zM993,184h1v1h-1zM997,184h1v1h-1zM993,185h1v1h-1zM997,185h1v1h-1zM994,186h3v1h-3z" fill="#000080"/>
<rect x="969" y="196" width="3" height="1" fill="#000080"/>
<path d="M978,192h1v1h-1zM977,193h2v1h-2zM977,194h2v1h-2zM976,195h1v1h-1zM978,195h1v1h-1zM976,196h1v1h-1zM978,196h1v1h-1zM975,197h1v1h-1zM978,197h1v1h-1zM975,198h5v1h-5zM978,199h1v1h-1zM978,200h1v1h-1zM982,192h3v1h-3zM981,193h1v1h-1zM985,193h1v1h-1zM985,194h1v1h-1zM985,195h1v1h-1zM983,196h2v1h-2zM985,197h1v1h-1zM985,198h1v1h-1zM981,199h1v1h-1zM985,199h1v1h-1zM982,200h3v1h-3zM988,192h3v1h-3zM987,193h1v1h-1zM991,193h1v1h-1zM991,194h1v1h-1zM991,195h1v1h-1zM990,196h1v1h-1zM989,197h1v1h-1zM988,198h1v1h-1zM987,199h1v1h-1zM987,200h5v1h-5zM993,192h5v1h-5zM997,193h1v1h-1zM996,194h1v1h-1zM996,195h1v1h-1zM995,196h1v1h-1zM995,197h1v1h-1zM994,198h1v1h-1zM994,199h1v1h-1zM994,200h1v1h-1zM1000,200h1v1h-1zM999,201h1v1h-1zM1002,192h5v1h-5zM1002,193h1v1h-1zM1002,194h1v1h-1zM1002,195h4v1h-4zM1002,196h1v1h-1zM1006,196h1v1h-1zM1006,197h1v1h-1zM1006,198h1v1h-1zM1002,199h1v1h-1zM1006,199h1v1h-1zM1003,200h3v1h-3z" fill="#000080"/>
<rect x="969" y="210" width="3" height="1" fill="#000080"/>
<path d="M978,206h1v1h-1zM977,207h2v1h-2zM977,208h2v1h-2zM976,209h1v1h-1zM978,209h1v1h-1zM976,210h1v1h-1zM978,210h1v1h-1zM975,211h1v1h-1zM978,211h1v1h-1zM975,212h5v1h-5zM978,213h1v1h-1zM978,214h1v1h-1zM982,206h3v1h-3zM981,207h1v1h-1zM985,207h1v1h-1zM985,208h1v1h-1zM985,209h1v1h-1zM983,210h2v1h-2zM985,211h1v1h-1zM985,212h1v1h-1zM981,213h1v1h-1zM985,213h1v1h-1zM982,214h3v1h-3zM988,206h3v1h-3zM987,207h1v1h-1zM991,207h1v1h-1zM991,208h1v1h-1zM991,209h1v1h-1zM990,210h1v1h-1zM989,211h1v1h-1zM988,212h1v1h-1zM987,213h1v1h-1zM987,214h5v1h-5zM993,206h5v1h-5zM993,207h1v1h-1zM993,208h1v1h-1zM993,209h4v1h-4zM993,210h1v1h-1zM997,210h1v1h-1zM997,211h1v1h-1zM997,212h1v1h-1zM993,213h1v1h-1zM997,213h1v1h-1zM994,214h3v1h-3z" fill="#000080"/>
<rect x="969" y="224" width="3" height="1" fill="#000080"/>
<path d="M978,220h1v1h-1zM977,221h2v1h-2zM977,222h2v1h-2zM976,223h1v1h-1zM978,223h1v1h-1zM976,224h1v1h-1zM978,224h1v1h-1zM975,225h1v1h-1zM978,225h1v1h-1zM975,226h5v1h-5zM978,227h1v1h-1zM978,228h1v1h-1zM982,220h3v1h-3zM981,221h1v1h-1zM985,221h1v1h-1zM985,222h1v1h-1zM985,223h1v1h-1zM983,224h2v1h-2zM985,225h1v1h-1zM985,226h1v1h-1zM981,227h1v1h-1zM985,227h1v1h-1zM982,228h3v1h-3zM988,220h3v1h-3zM987,221h1v1h-1zM991,221h1v1h-1zM991,222h1v1h-1zM991,223h1v1h-1zM990,224h1v1h-1zM989,225h1v1h-1zM988,226h1v1h-1zM987,227h1v1h-1zM987,228h5v1h-5zM994,220h3v1h-3zM993,221h1v1h-1zM997,221h1v1h-1zM997,222h1v1h-1zM997,223h1v1h-1zM996,224h1v1h-1zM995,225h1v1h-1zM994,226h1v1h-1zM993,227h1v1h-1zM993,228h5v1h-5zM1000,228h1v1h-1zM999,229h1v1h-1zM1002,220h5v1h-5zM1002,221h1v1h-1zM1002,222h1v1h-1zM1002,223h4v1h-4zM1002,224h1v1h-1zM1006,224h1v1h-1zM1006,225h1v1h-1zM1006,226h1v1h-1zM1002,227h1v1h-1zM1006,227h1v1h-1zM1003,228h3v1h-3z" fill="#000080"/>
<rect x="969" y="238" width="3" height="1" fill="#000080"/>
<path d="M978,234h1v1h-1zM977,235h2v1h-2zM977,236h2v1h-2zM976,237h1v1h-1zM978,237h1v1h-1zM976,238h1v1h-1zM978,238h1v1h-1zM975,239h1v1h-1zM978,239h1v1h-1zM975,240h5v1h-5zM978,241h1v1h-1zM978,242h1v1h-1zM982,234h3v1h-3zM981,235h1v1h-1zM985,235h1v1h-1zM985,236h1v1h-1zM985,237h1v1h-1zM983,238h2v1h-2zM985,239h1v1h-1zM985,240h1v1h-1zM981,241h1v1h-1zM985,241h1v1h-1zM982,242h3v1h-3zM988,234h3v1h-3zM987,235h1v1h-1zM991,235h1v1h-1zM991,236h1v1h-1zM991,237h1v1h-1zM990,238h1v1h-1zM989,239h1v1h-1zM988,240h1v1h-1zM987,241h1v1h-1zM987,242h5v1h-5zM994,234h3v1h-3zM993,235h1v1h-1zM997,235h1v1h-1zM993,236h1v1h-1zM997,236h1v1h-1zM993,237h1v1h-1zM997,237h1v1h-1zM993,238h1v1h-1zM997,238h1v1h-1zM993,239h1v1h-1zM997,239h1v1h-1zM993,240h1v1h-1zM997,240h1v1h-1zM993,241h1v1h-1zM997,241h1v1h-1zM994,242h3v1h-3z" fill="#000080"/>
<rect x="969" y="252" width="3" height="1" fill="#000080"/>
<path d="M978,248h1v1h-1zM977,249h2v1h-2zM977,250h2v1h-2zM976,251h1v1h-1zM978,251h1v1h-1zM976,252h1v1h-1zM978,252h1v1h-1zM975,253h1v1h-1zM978,253h1v1h-1zM975,254h5v1h-5zM978,255h1v1h-1zM978,256h1v1h-1zM982,248h3v1h-3zM981,249h1v1h-1zM985,249h1v1h-1zM985,250h1v1h-1zM985,251h1v1h-1zM983,252h2v1h-2zM985,253h1v1h-1zM985,254h1v1h-1zM981,255h1v1h-1zM985,255h1v1h-1zM982,256h3v1h-3zM989,248h1v1h-1zM987,249h3v1h-3zM989,250h1v1h-1zM989,251h1v1h-1zM989,252h1v1h-1zM989,253h1v1h-1zM989,254h1v1h-1zM989,255h1v1h-1zM989,256h1v1h-1zM993,248h5v1h-5zM997,249h1v1h-1zM996,250h1v1h-1zM996,251h1v1h-1zM995,252h1v1h-1zM995,253h1v1h-1zM994,254h1v1h-1zM994,255h1v1h-1zM994,256h1v1h-1zM1000,256h1v1h-1zM999,257h1v1h-1zM1002,248h5v1h-5zM1002,249h1v1h-1zM1002,250h1v1h-1zM1002,251h4v1h-4zM1002,252h1v1h-1zM1006,252h1v1h-1zM1006,253h1v1h-1zM1006,254h1v1h-1zM1002,255h1v1h-1zM1006,255h1v1h-1zM1003,256h3v1h-3z" fill="#000080"/>
<rect x="969" y="266" width="3" height="1" fill="#000080"/>
<path d="M978,262h1v1h-1zM977,263h2v1h-2zM977,264h2v1h-2zM976,265h1v1h-1zM978,265h1v1h-1zM976,266h1v1h-1zM978,266h1v1h-1zM975,267h1v1h-1zM978,267h1v1h-1zM975,268h5v1h-5zM978,269h1v1h-1zM978,270h1v1h-1zM982,262h3v1h-3zM981,263h1v1h-1zM985,263h1v1h-1zM985,264h1v1h-1zM985,265h1v1h-1zM983,266h2v1h-2zM985,267h1v1h-1zM985,268h1v1h-1zM981,269h1v1h-1zM985,269h1v1h-1zM982,270h3v1h-3zM989,262h1v1h-1zM987,263h3v1h-3zM989,264h1v1h-1zM989,265h1v1h-1zM989,266h1v1h-1zM989,267h1v1h-1zM989,268h1v1h-1zM989,269h1v1h-1zM989,270h1v1h-1zM993,262h5v1h-5zM993,263h1v1h-1zM993,264h1v1h-1zM993,265h4v1h-4zM993,266h1v1h-1zM997,266h1v1h-1zM997,267h1v1h-1zM997,268h1v1h-1zM993,269h1v1h-1zM997,269h1v1h-1zM994,270h3v1h-3z" fill="#000080"/>
<rect x="969" y="280" width="3" height="1" fill="#000080"/>
<path d="M978,276h1v1h-1zM977,277h2v1h-2zM977,278h2v1h-2zM976,279h1v1h-1zM978,279h1v1h-1zM976,280h1v1h-1zM978,280h1v1h-1zM975,281h1v1h-1zM978,281h1v1h-1zM975,282h5v1h-5zM978,283h1v1h-1zM978,284h1v1h-1zM982,276h3v1h-3zM981,277h1v1h-1zM985,277h1v1h-1zM985,278h1v1h-1zM985,279h1v1h-1zM983,280h2v1h-2zM985,281h1v1h-1zM985,282h1v1h-1zM981,283h1v1h-1zM985,283h1v1h-1zM982,284h3v1h-3zM989,276h1v1h-1zM987,277h3v1h-3zM989,278h1v1h-1zM989,279h1v1h-1zM989,280h1v1h-1zM989,281h1v1h-1zM989,282h1v1h-1zM989,283h1v1h-1zM989,284h1v1h-1zM994,276h3v1h-3zM993,277h1v1h-1zM997,277h1v1h-1zM997,278h1v1h-1zM997,279h1v1h-1zM996,280h1v1h-1zM995,281h1v1h-1zM994,282h1v1h-1zM993,283h1v1h-1zM993,284h5v1h-5zM1000,284h1v1h-1zM999,285h1v1h-1zM1002,276h5v1h-5zM1002,277h1v1h-1zM1002,278h1v1h-1zM1002,279h4v1h-4zM1002,280h1v1h-1zM1006,280h1v1h-1zM1006,281h1v1h-1zM1006,282h1v1h-1zM1002,283h1v1h-1zM1006,283h1v1h-1zM1003,284h3v1h-3z" fill="#000080"/>
<rect x="969" y="295" width="3" height="1" fill="#000080"/>
<path d="M978,291h1v1h-1zM977,292h2v1h-2zM977,293h2v1h-2zM976,294h1v1h-1zM978,294h1v1h-1zM976,295h1v1h-1zM978,295h1v1h-1zM975,296h1v1h-1zM978,296h1v1h-1zM975,297h5v1h-5zM978,298h1v1h-1zM978,299h1v1h-1zM982,291h3v1h-3zM981,292h1v1h-1zM985,292h1v1h-1zM985,293h1v1h-1zM985,294h1v1h-1zM983,295h2v1h-2zM985,296h1v1h-1zM985,297h1v1h-1zM981,298h1v1h-1zM985,298h1v1h-1zM982,299h3v1h-3zM989,291h1v1h-1zM987,292h3v1h-3zM989,293h1v1h-1zM989,294h1v1h-1zM989,295h1v1h-1zM989,296h1v1h-1zM989,297h1v1h-1zM989,298h1v1h-1zM989,299h1v1h-1zM994,291h3v1h-3zM993,292h1v1h-1zM997,292h1v1h-1zM993,293h1v1h-1zM997,293h1v1h-1zM993,294h1v1h-1zM997,294h1v1h-1zM993,295h1v1h-1zM997,295h1v1h-1zM993,296h1v1h-1zM997,296h1v1h-1zM993,297h1v1h-1zM997,297h1v1h-1zM993,298h1v1h-1zM997,298h1v1h-1zM994,299h3v1h-3z" fill="#000080"/>
<rect x="969" y="309" width="3" height="1" fill="#000080"/>
<path d="M978,305h1v1h-1zM977,306h2v1h-2zM977,307h2v1h-2zM976,308h1v1h-1zM978,308h1v1h-1zM976,309h1v1h-1zM978,309h1v1h-1zM975,310h1v1h-1zM978,310h1v1h-1zM975,311h5v1h-5zM978,312h1v1h-1zM978,313h1v1h-1zM982,305h3v1h-3zM981,306h1v1h-1zM985,306h1v1h-1zM985,307h1v1h-1zM985,308h1v1h-1zM983,309h2v1h-2zM985,310h1v1h-1zM985,311h1v1h-1zM981,312h1v1h-1zM985,312h1v1h-1zM982,313h3v1h-3zM988,305h3v1h-3zM987,306h1v1h-1zM991,306h1v1h-1zM987,307h1v1h-1zM991,307h1v1h-1zM987,308h1v1h-1zM991,308h1v1h-1zM987,309h1v1h-1zM991,309h1v1h-1zM987,310h1v1h-1zM991,310h1v1h-1zM987,311h1v1h-1zM991,311h1v1h-1zM987,312h1v1h-1zM991,312h1v1h-1zM988,313h3v1h-3zM993,305h5v1h-5zM997,306h1v1h-1zM996,307h1v1h-1zM996,308h1v1h-1zM995,309h1v1h-1zM995,310h1v1h-1zM994,311h1v1h-1zM994,312h1v1h-1zM994,313h1v1h-1zM1000,313h1v1h-1zM999,314h1v1h-1zM1002,305h5v1h-5zM1002,306h1v1h-1zM1002,307h1v1h-1zM1002,308h4v1h-4zM1002,309h1v1h-1zM1006,309h1v1h-1zM1006,310h1v1h-1zM1006,311h1v1h-1zM1002,312h1v1h-1zM1006,312h1v1h-1zM1003,313h3v1h-3z" fill="#000080"/>
<rect x="969" y="323" width="3" height="1" fill="#000080"/>
<path d="M978,319h1v1h-1zM977,320h2v1h-2zM977,321h2v1h-2zM976,322h1v1h-1zM978,322h1v1h-1zM976,323h1v1h-1zM978,323h1v1h-1zM975,324h1v1h-1zM978,324h1v1h-1zM975,325h5v1h-5zM978,326h1v1h-1zM978,327h1v1h-1zM982,319h3v1h-3zM981,320h1v1h-1zM985,320h1v1h-1zM985,321h1v1h-1zM985,322h1v1h-1zM983,323h2v1h-2zM985,324h1v1h-1zM985,325h1v1h-1zM981,326h1v1h-1zM985,326h1v1h-1zM982,327h3v1h-3zM988,319h3v1h-3zM987,320h1v1h-1zM991,320h1v1h-1zM987,321h1v1h-1zM991,321h1v1h-1zM987,322h1v1h-1zM991,322h1v1h-1zM987,323h1v1h-1zM991,323h1v1h-1zM987,324h1v1h-1zM991,324h1v1h-1zM987,325h1v1h-1zM991,325h1v1h-1zM987,326h1v1h-1zM991,326h1v1h-1zM988,327h3v1h-3zM993,319h5v1h-5zM993,320h1v1h-1zM993,321h1v1h-1zM993,322h4v1h-4zM993,323h1v1h-1zM997,323h1v1h-1zM997,324h1v1h-1zM997,325h1v1h-1zM993,326h1v1h-1zM997,326h1v1h-1zM994,327h3v1h-3z" fill="#000080"/>
<rect x="969" y="337" width="3" height="1" fill="#000080"/>
<path d="M978,333h1v1h-1zM977,334h2v1h-2zM977,335h2v1h-2zM976,336h1v1h-1zM978,336h1v1h-1zM976,337h1v1h-1zM978,337h1v1h-1zM975,338h1v1h-1zM978,338h1v1h-1zM975,339h5v1h-5zM978,340h1v1h-1zM978,341h1v1h-1zM982,333h3v1h-3zM981,334h1v1h-1zM985,334h1v1h-1zM985,335h1v1h-1zM985,336h1v1h-1zM983,337h2v1h-2zM985,338h1v1h-1zM985,339h1v1h-1zM981,340h1v1h-1zM985,340h1v1h-1zM982,341h3v1h-3zM988,333h3v1h-3zM987,334h1v1h-1zM991,334h1v1h-1zM987,335h1v1h-1zM991,335h1v1h-1zM987,336h1v1h-1zM991,336h1v1h-1zM987,337h1v1h-1zM991,337h1v1h-1zM987,338h1v1h-1zM991,338h1v1h-1zM987,339h1v1h-1zM991,339h1v1h-1zM987,340h1v1h-1zM991,340h1v1h-1zM988,341h3v1h-3zM994,333h3v1h-3zM993,334h1v1h-1zM997,334h1v1h-1zM997,335h1v1h-1zM997,336h1v1h-1zM996,337h1v1h-1zM995,338h1v1h-1zM994,339h1v1h-1zM993,340h1v1h-1zM993,341h5v1h-5zM1000,341h1v1h-1zM999,342h1v1h-1zM1002,333h5v1h-5zM1002,334h1v1h-1zM1002,335h1v1h-1zM1002,336h4v1h-4zM1002,337h1v1h-1zM1006,337h1v1h-1zM1006,338h1v1h-1zM1006,339h1v1h-1zM1002,340h1v1h-1zM1006,340h1v1h-1zM1003,341h3v1h-3z" fill="#000080"/>
<rect x="969" y="351" width="3" height="1" fill="#000080"/>
<path d="M978,347h1v1h-1zM977,348h2v1h-2zM977,349h2v1h-2zM976,350h1v1h-1zM978,350h1v1h-1zM976,351h1v1h-1zM978,351h1v1h-1zM975,352h1v1h-1zM978,352h1v1h-1zM975,353h5v1h-5zM978,354h1v1h-1zM978,355h1v1h-1zM982,347h3v1h-3zM981,348h1v1h-1zM985,348h1v1h-1zM985,349h1v1h-1zM985,350h1v1h-1zM983,351h2v1h-2zM985,352h1v1h-1zM985,353h1v1h-1zM981,354h1v1h-1zM985,354h1v1h-1zM982,355h3v1h-3zM988,347h3v1h-3zM987,348h1v1h-1zM991,348h1v1h-1zM987,349h1v1h-1zM991,349h1v1h-1zM987,350h1v1h-1zM991,350h1v1h-1zM987,351h1v1h-1zM991,351h1v1h-1zM987,352h1v1h-1zM991,352h1v1h-1zM987,353h1v1h-1zM991,353h1v1h-1zM987,354h1v1h-1zM991,354h1v1h-1zM988,355h3v1h-3zM994,347h3v1h-3zM993,348h1v1h-1zM997,348h1v1h-1zM993,349h1v1h-1zM997,349h1v1h-1zM993,350h1v1h-1zM997,350h1v1h-1zM993,351h1v1h-1zM997,351h1v1h-1zM993,352h1v1h-1zM997,352h1v1h-1zM993,353h1v1h-1zM997,353h1v1h-1zM993,354h1v1h-1zM997,354h1v1h-1zM994,355h3v1h-3z" fill="#000080"/>
<rect x="969" y="365" width="3" height="1" fill="#000080"/>
<path d="M978,361h1v1h-1zM977,362h2v1h-2zM977,363h2v1h-2zM976,364h1v1h-1zM978,364h1v1h-1zM976,365h1v1h-1zM978,365h1v1h-1zM975,366h1v1h-1zM978,366h1v1h-1zM975,367h5v1h-5zM978,368h1v1h-1zM978,369h1v1h-1zM982,361h3v1h-3zM981,362h1v1h-1zM985,362h1v1h-1zM985,363h1v1h-1zM985,364h1v1h-1zM984,365h1v1h-1zM983,366h1v1h-1zM982,367h1v1h-1zM981,368h1v1h-1zM981,369h5v1h-5zM988,361h3v1h-3zM987,362h1v1h-1zM991,362h1v1h-1zM987,363h1v1h-1zM991,363h1v1h-1zM987,364h1v1h-1zM991,364h1v1h-1zM988,365h4v1h-4zM991,366h1v1h-1zM991,367h1v1h-1zM987,368h1v1h-1zM991,368h1v1h-1zM988,369h3v1h-3zM993,361h5v1h-5zM997,362h1v1h-1zM996,363h1v1h-1zM996,364h1v1h-1zM995,365h1v1h-1zM995,366h1v1h-1zM994,367h1v1h-1zM994,368h1v1h-1zM994,369h1v1h-1zM1000,369h1v1h-1zM999,370h1v1h-1zM1002,361h5v1h-5zM1002,362h1v1h-1zM1002,363h1v1h-1zM1002,364h4v1h-4zM1002,365h1v1h-1zM1006,365h1v1h-1zM1006,366h1v1h-1zM1006,367h1v1h-1zM1002,368h1v1h-1zM1006,368h1v1h-1zM1003,369h3v1h-3z" fill="#000080"/>
<rect x="969" y="379" width="3" height="1" fill="#000080"/>
<path d="M978,375h1v1h-1zM977,376h2v1h-2zM977,377h2v1h-2zM976,378h1v1h-1zM978,378h1v1h-1zM976,379h1v1h-1zM978,379h1v1h-1zM975,380h1v1h-1zM978,380h1v1h-1zM975,381h5v1h-5zM978,382h1v1h-1zM978,383h1v1h-1zM982,375h3v1h-3zM981,376h1v1h-1zM985,376h1v1h-1zM985,377h1v1h-1zM985,378h1v1h-1zM984,379h1v1h-1zM983,380h1v1h-1zM982,381h1v1h-1zM981,382h1v1h-1zM981,383h5v1h-5zM988,375h3v1h-3zM987,376h1v1h-1zM991,376h1v1h-1zM987,377h1v1h-1zM991,377h1v1h-1zM987,378h1v1h-1zM991,378h1v1h-1zM988,379h4v1h-4zM991,380h1v1h-1zM991,381h1v1h-1zM987,382h1v1h-1zM991,382h1v1h-1zM988,383h3v1h-3zM993,375h5v1h-5zM993,376h1v1h-1zM993,377h1v1h-1zM993,378h4v1h-4zM993,379h1v1h-1zM997,379h1v1h-1zM997,380h1v1h-1zM997,381h1v1h-1zM993,382h1v1h-1zM997,382h1v1h-1zM994,383h3v1h-3z" fill="#000080"/>
<rect x="969" y="527" width="1" height="1" fill="#000080"/>
<rect x="969" y="522" width="1" height="1" fill="#000080"/>
<rect x="969" y="517" width="1" height="1" fill="#000080"/>
<rect x="969" y="512" width="1" height="1" fill="#000080"/>
<rect x="969" y="507" width="1" height="1" fill="#000080"/>
<rect x="969" y="502" width="1" height="1" fill="#000080"/>
<rect x="969" y="497" width="1" height="1" fill="#000080"/>
<rect x="969" y="491" width="1" height="1" fill="#000080"/>
<rect x="969" y="486" width="1" height="1" fill="#000080"/>
<rect x="969" y="481" width="1" height="1" fill="#000080"/>
<rect x="969" y="476" width="1" height="1" fill="#000080"/>
<rect x="969" y="471" width="1" height="1" fill="#000080"/>
<rect x="969" y="466" width="1" height="1" fill="#000080"/>
<rect x="969" y="461" width="1" height="1" fill="#000080"/>
<rect x="969" y="455" width="1" height="1" fill="#000080"/>
<rect x="969" y="450" width="1" height="1" fill="#000080"/>
<rect x="969" y="445" width="1" height="1" fill="#000080"/>
<rect x="969" y="440" width="1" height="1" fill="#000080"/>
<rect x="969" y="435" width="1" height="1" fill="#000080"/>
<rect x="969" y="430" width="1" height="1" fill="#000080"/>
<rect x="969" y="425" width="1" height="1" fill="#000080"/>
<rect x="969" y="522" width="3" height="1" fill="#000080"/>
<path d="M976,518h3v1h-3zM975,519h1v1h-1zM979,519h1v1h-1zM975,520h1v1h-1zM979,520h1v1h-1zM975,521h1v1h-1zM979,521h1v1h-1zM975,522h1v1h-1zM979,522h1v1h-1zM975,523h1v1h-1zM979,523h1v1h-1zM975,524h1v1h-1zM979,524h1v1h-1zM975,525h1v1h-1zM979,525h1v1h-1zM976,526h3v1h-3z" fill="#000080"/>
<rect x="969" y="502" width="3" height="1" fill="#000080"/>
<path d="M976,498h3v1h-3zM975,499h1v1h-1zM979,499h1v1h-1zM979,500h1v1h-1zM979,501h1v1h-1zM978,502h1v1h-1zM977,503h1v1h-1zM976,504h1v1h-1zM975,505h1v1h-1zM975,506h5v1h-5zM982,498h3v1h-3zM981,499h1v1h-1zM985,499h1v1h-1zM981,500h1v1h-1zM985,500h1v1h-1zM981,501h1v1h-1zM985,501h1v1h-1zM981,502h1v1h-1zM985,502h1v1h-1zM981,503h1v1h-1zM985,503h1v1h-1zM981,504h1v1h-1zM985,504h1v1h-1zM981,505h1v1h-1zM985,505h1v1h-1zM982,506h3v1h-3z" fill="#000080"/>
<rect x="969" y="481" width="3" height="1" fill="#000080"/>
<path d="M978,477h1v1h-1zM977,478h2v1h-2zM977,479h2v1h-2zM976,480h1v1h-1zM978,480h1v1h-1zM976,481h1v1h-1zM978,481h1v1h-1zM975,482h1v1h-1zM978,482h1v1h-1zM975,483h5v1h-5zM978,484h1v1h-1zM978,485h1v1h-1zM982,477h3v1h-3zM981,478h1v1h-1zM985,478h1v1h-1zM981,479h1v1h-1zM985,479h1v1h-1zM981,480h1v1h-1zM985,480h1v1h-1zM981,481h1v1h-1zM985,481h1v1h-1zM981,482h1v1h-1zM985,482h1v1h-1zM981,483h1v1h-1zM985,483h1v1h-1zM981,484h1v1h-1zM985,484h1v1h-1zM982,485h3v1h-3z" fill="#000080"/>
<rect x="969" y="461" width="3" height="1" fill="#000080"/>
<path d="M976,457h3v1h-3zM975,458h1v1h-1zM979,458h1v1h-1zM975,459h1v1h-1zM975,460h1v1h-1zM975,461h4v1h-4zM975,462h1v1h-1zM979,462h1v1h-1zM975,463h1v1h-1zM979,463h1v1h-1zM975,464h1v1h-1zM979,464h1v1h-1zM976,465h3v1h-3zM982,457h3v1h-3zM981,458h1v1h-1zM985,458h1v1h-1zM981,459h1v1h-1zM985,459h1v1h-1zM981,460h1v1h-1zM985,460h1v1h-1zM981,461h1v1h-1zM985,461h1v1h-1zM981,462h1v1h-1zM985,462h1v1h-1zM981,463h1v1h-1zM985,463h1v1h-1zM981,464h1v1h-1zM985,464h1v1h-1zM982,465h3v1h-3z" fill="#000080"/>
<rect x="969" y="440" width="3" height="1" fill="#000080"/>
<path d="M976,436h3v1h-3zM975,437h1v1h-1zM979,437h1v1h-1zM975,438h1v1h-1zM979,438h1v1h-1zM975,439h1v1h-1zM979,439h1v1h-1zM976,440h3v1h-3zM975,441h1v1h-1zM979,441h1v1h-1zM975,442h1v1h-1zM979,442h1v1h-1zM975,443h1v1h-1zM979,443h1v1h-1zM976,444h3v1h-3zM982,436h3v1h-3zM981,437h1v1h-1zM985,437h1v1h-1zM981,438h1v1h-1zM985,438h1v1h-1zM981,439h1v1h-1zM985,439h1v1h-1zM981,440h1v1h-1zM985,440h1v1h-1zM981,441h1v1h-1zM985,441h1v1h-1zM981,442h1v1h-1zM985,442h1v1h-1zM981,443h1v1h-1zM985,443h1v1h-1zM982,444h3v1h-3z" fill="#000080"/>
<rect x="969" y="661" width="1" height="1" fill="#000080"/>
<rect x="969" y="656" width="1" height="1" fill="#000080"/>
<rect x="969" y="652" width="1" height="1" fill="#000080"/>
<rect x="969" y="647" width="1" height="1" fill="#000080"/>
<rect x="969" y="642" width="1" height="1" fill="#000080"/>
<rect x="969" y="638" width="1" height="1" fill="#000080"/>
<rect x="969" y="633" width="1" height="1" fill="#000080"/>
<rect x="969" y="628" width="1" height="1" fill="#000080"/>
<rect x="969" y="623" width="1" height="1" fill="#000080"/>
<rect x="969" y="619" width="1" height="1" fill="#000080"/>
<rect x="969" y="614" width="1" height="1" fill="#000080"/>
<rect x="969" y="609" width="1" height="1" fill="#000080"/>
<rect x="969" y="604" width="1" height="1" fill="#000080"/>
<rect x="969" y="600" width="1" height="1" fill="#000080"/>
<rect x="969" y="595" width="1" height="1" fill="#000080"/>
<rect x="969" y="590" width="1" height="1" fill="#000080"/>
<rect x="969" y="586" width="1" height="1" fill="#000080"/>
<rect x="969" y="581" width="1" height="1" fill="#000080"/>
<rect x="969" y="576" width="1" height="1" fill="#000080"/>
<rect x="969" y="571" width="1" height="1" fill="#000080"/>
<rect x="969" y="567" width="1" height="1" fill="#000080"/>
<rect x="969" y="562" width="1" height="1" fill="#000080"/>
<rect x="969" y="557" width="1" height="1" fill="#000080"/>
<rect x="969" y="647" width="3" height="1" fill="#000080"/>
<path d="M976,643h3v1h-3zM975,644h1v1h-1zM979,644h1v1h-1zM975,645h1v1h-1zM979,645h1v1h-1zM975,646h1v1h-1zM979,646h1v1h-1zM975,647h1v1h-1zM979,647h1v1h-1zM975,648h1v1h-1zM979,648h1v1h-1zM975,649h1v1h-1zM979,649h1v1h-1zM975,650h1v1h-1zM979,650h1v1h-1zM976,651h3v1h-3z" fill="#000080"/>
<rect x="969" y="628" width="3" height="1" fill="#000080"/>
<path d="M976,624h3v1h-3zM975,625h1v1h-1zM979,625h1v1h-1zM979,626h1v1h-1zM979,627h1v1h-1zM978,628h1v1h-1zM977,629h1v1h-1zM976,630h1v1h-1zM975,631h1v1h-1zM975,632h5v1h-5zM982,624h3v1h-3zM981,625h1v1h-1zM985,625h1v1h-1zM981,626h1v1h-1zM985,626h1v1h-1zM981,627h1v1h-1zM985,627h1v1h-1zM981,628h1v1h-1zM985,628h1v1h-1zM981,629h1v1h-1zM985,629h1v1h-1zM981,630h1v1h-1zM985,630h1v1h-1zM981,631h1v1h-1zM985,631h1v1h-1zM982,632h3v1h-3z" fill="#000080"/>
<rect x="969" y="609" width="3" height="1" fill="#000080"/>
<path d="M978,605h1v1h-1zM977,606h2v1h-2zM977,607h2v1h-2zM976,608h1v1h-1zM978,608h1v1h-1zM976,609h1v1h-1zM978,609h1v1h-1zM975,610h1v1h-1zM978,610h1v1h-1zM975,611h5v1h-5zM978,612h1v1h-1zM978,613h1v1h-1zM982,605h3v1h-3zM981,606h1v1h-1zM985,606h1v1h-1zM981,607h1v1h-1zM985,607h1v1h-1zM981,608h1v1h-1zM985,608h1v1h-1zM981,609h1v1h-1zM985,609h1v1h-1zM981,610h1v1h-1zM985,610h1v1h-1zM981,611h1v1h-1zM985,611h1v1h-1zM981,612h1v1h-1zM985,612h1v1h-1zM982,613h3v1h-3z" fill="#000080"/>
<rect x="969" y="590" width="3" height="1" fill="#000080"/>
<path d="M976,586h3v1h-3zM975,587h1v1h-1zM979,587h1v1h-1zM975,588h1v1h-1zM975,589h1v1h-1zM975,590h4v1h-4zM975,591h1v1h-1zM979,591h1v1h-1zM975,592h1v1h-1zM979,592h1v1h-1zM975,593h1v1h-1zM979,593h1v1h-1zM976,594h3v1h-3zM982,586h3v1h-3zM981,587h1v1h-1zM985,587h1v1h-1zM981,588h1v1h-1zM985,588h1v1h-1zM981,589h1v1h-1zM985,589h1v1h-1zM981,590h1v1h-1zM985,590h1v1h-1zM981,591h1v1h-1zM985,591h1v1h-1zM981,592h1v1h-1zM985,592h1v1h-1zM981,593h1v1h-1zM985,593h1v1h-1zM982,594h3v1h-3z" fill="#000080"/>
<rect x="32" y="669" width="1" height="5" fill="#000080"/>
<rect x="83" y="669" width="1" height="5" fill="#000080"/>
<rect x="133" y="669" width="1" height="5" fill="#000080"/>
<rect x="184" y="669" width="1" height="5" fill="#000080"/>
<rect x="235" y="669" width="1" height="5" fill="#000080"/>
<rect x="286" y="669" width="1" height="5" fill="#000080"/>
<rect x="337" y="669" width="1" height="5" fill="#000080"/>
<rect x="387" y="669" width="1" height="5" fill="#000080"/>
<rect x="438" y="669" width="1" height="5" fill="#000080"/>
<rect x="476" y="669" width="1" height="5" fill="#000080"/>
<rect x="527" y="669" width="1" height="5" fill="#000080"/>
<rect x="578" y="669" width="1" height="5" fill="#000080"/>
<rect x="629" y="669" width="1" height="5" fill="#000080"/>
<rect x="679" y="669" width="1" height="5" fill="#000080"/>
<rect x="730" y="669" width="1" height="5" fill="#000080"/>
<rect x="781" y="669" width="1" height="5" fill="#000080"/>
<rect x="832" y="669" width="1" height="5" fill="#000080"/>
<path d="M45,678h1v1h-1zM43,679h3v1h-3zM45,680h1v1h-1zM45,681h1v1h-1zM45,682h1v1h-1zM45,683h1v1h-1zM45,684h1v1h-1zM45,685h1v1h-1zM45,686h1v1h-1zM50,678h3v1h-3zM49,679h1v1h-1zM53,679h1v1h-1zM49,680h1v1h-1zM53,680h1v1h-1zM49,681h1v1h-1zM53,681h1v1h-1zM49,682h1v1h-1zM53,682h1v1h-1zM49,683h1v1h-1zM53,683h1v1h-1zM49,684h1v1h-1zM53,684h1v1h-1zM49,685h1v1h-1zM53,685h1v1h-1zM50,686h3v1h-3zM55,681h1v1h-1zM55,686h1v1h-1zM59,678h3v1h-3zM58,679h1v1h-1zM62,679h1v1h-1zM58,680h1v1h-1zM62,680h1v1h-1zM58,681h1v1h-1zM62,681h1v1h-1zM58,682h1v1h-1zM62,682h1v1h-1zM58,683h1v1h-1zM62,683h1v1h-1zM58,684h1v1h-1zM62,684h1v1h-1zM58,685h1v1h-1zM62,685h1v1h-1zM59,686h3v1h-3zM65,678h3v1h-3zM64,679h1v1h-1zM68,679h1v1h-1zM64,680h1v1h-1zM68,680h1v1h-1zM64,681h1v1h-1zM68,681h1v1h-1zM64,682h1v1h-1zM68,682h1v1h-1zM64,683h1v1h-1zM68,683h1v1h-1zM64,684h1v1h-1zM68,684h1v1h-1zM64,685h1v1h-1zM68,685h1v1h-1zM65,686h3v1h-3z" fill="#000080"/>
<path d="M96,678h1v1h-1zM94,679h3v1h-3zM96,680h1v1h-1zM96,681h1v1h-1zM96,682h1v1h-1zM96,683h1v1h-1zM96,684h1v1h-1zM96,685h1v1h-1zM96,686h1v1h-1zM102,678h1v1h-1zM100,679h3v1h-3zM102,680h1v1h-1zM102,681h1v1h-1zM102,682h1v1h-1zM102,683h1v1h-1zM102,684h1v1h-1zM102,685h1v1h-1zM102,686h1v1h-1zM106,681h1v1h-1zM106,686h1v1h-1zM110,678h3v1h-3zM109,679h1v1h-1zM113,679h1v1h-1zM109,680h1v1h-1zM113,680h1v1h-1zM109,681h1v1h-1zM113,681h1v1h-1zM109,682h1v1h-1zM113,682h1v1h-1zM109,683h1v1h-1zM113,683h1v1h-1zM109,684h1v1h-1zM113,684h1v1h-1zM109,685h1v1h-1zM113,685h1v1h-1zM110,686h3v1h-3zM116,678h3v1h-3zM115,679h1v1h-1zM119,679h1v1h-1zM115,680h1v1h-1zM119,680h1v1h-1zM115,681h1v1h-1zM119,681h1v1h-1zM115,682h1v1h-1zM119,682h1v1h-1zM115,683h1v1h-1zM119,683h1v1h-1zM115,684h1v1h-1zM119,684h1v1h-1zM115,685h1v1h-1zM119,685h1v1h-1zM116,686h3v1h-3z" fill="#000080"/>
<path d="M146,678h1v1h-1zM144,679h3v1h-3zM146,680h1v1h-1zM146,681h1v1h-1zM146,682h1v1h-1zM146,683h1v1h-1zM146,684h1v1h-1zM146,685h1v1h-1zM146,686h1v1h-1zM151,678h3v1h-3zM150,679h1v1h-1zM154,679h1v1h-1zM154,680h1v1h-1zM154,681h1v1h-1zM153,682h1v1h-1zM152,683h1v1h-1zM151,684h1v1h-1zM150,685h1v1h-1zM150,686h5v1h-5zM156,681h1v1h-1zM156,686h1v1h-1zM160,678h3v1h-3zM159,679h1v1h-1zM163,679h1v1h-1zM159,680h1v1h-1zM163,680h1v1h-1zM159,681h1v1h-1zM163,681h1v1h-1zM159,682h1v1h-1zM163,682h1v1h-1zM159,683h1v1h-1zM163,683h1v1h-1zM159,684h1v1h-1zM163,684h1v1h-1zM159,685h1v1h-1zM163,685h1v1h-1zM160,686h3v1h-3zM166,678h3v1h-3zM165,679h1v1h-1zM169,679h1v1h-1zM165,680h1v1h-1zM169,680h1v1h-1zM165,681h1v1h-1zM169,681h1v1h-1zM165,682h1v1h-1zM169,682h1v1h-1zM165,683h1v1h-1zM169,683h1v1h-1zM165,684h1v1h-1zM169,684h1v1h-1zM165,685h1v1h-1zM169,685h1v1h-1zM166,686h3v1h-3z" fill="#000080"/>
<path d="M197,678h1v1h-1zM195,679h3v1h-3zM197,680h1v1h-1zM197,681h1v1h-1zM197,682h1v1h-1zM197,683h1v1h-1zM197,684h1v1h-1zM197,685h1v1h-1zM197,686h1v1h-1zM202,678h3v1h-3zM201,679h1v1h-1zM205,679h1v1h-1zM205,680h1v1h-1zM205,681h1v1h-1zM203,682h2v1h-2zM205,683h1v1h-1zM205,684h1v1h-1zM201,685h1v1h-1zM205,685h1v1h-1zM202,686h3v1h-3zM207,681h1v1h-1zM207,686h1v1h-1zM211,678h3v1h-3zM210,679h1v1h-1zM214,679h1v1h-1zM210,680h1v1h-1zM214,680h1v1h-1zM210,681h1v1h-1zM214,681h1v1h-1zM210,682h1v1h-1zM214,682h1v1h-1zM210,683h1v1h-1zM214,683h1v1h-1zM210,684h1v1h-1zM214,684h1v1h-1zM210,685h1v1h-1zM214,685h1v1h-1zM211,686h3v1h-3zM217,678h3v1h-3zM216,679h1v1h-1zM220,679h1v1h-1zM216,680h1v1h-1zM220,680h1v1h-1zM216,681h1v1h-1zM220,681h1v1h-1zM216,682h1v1h-1zM220,682h1v1h-1zM216,683h1v1h-1zM220,683h1v1h-1zM216,684h1v1h-1zM220,684h1v1h-1zM216,685h1v1h-1zM220,685h1v1h-1zM217,686h3v1h-3z" fill="#000080"/>
<path d="M248,678h1v1h-1zM246,679h3v1h-3zM248,680h1v1h-1zM248,681h1v1h-1zM248,682h1v1h-1zM248,683h1v1h-1zM248,684h1v1h-1zM248,685h1v1h-1zM248,686h1v1h-1zM255,678h1v1h-1zM254,679h2v1h-2zM254,680h2v1h-2zM253,681h1v1h-1zM255,681h1v1h-1zM253,682h1v1h-1zM255,682h1v1h-1zM252,683h1v1h-1zM255,683h1v1h-1zM252,684h5v1h-5zM255,685h1v1h-1zM255,686h1v1h-1zM258,681h1v1h-1zM258,686h1v1h-1zM262,678h3v1h-3zM261,679h1v1h-1zM265,679h1v1h-1zM261,680h1v1h-1zM265,680h1v1h-1zM261,681h1v1h-1zM265,681h1v1h-1zM261,682h1v1h-1zM265,682h1v1h-1zM261,683h1v1h-1zM265,683h1v1h-1zM261,684h1v1h-1zM265,684h1v1h-1zM261,685h1v1h-1zM265,685h1v1h-1zM262,686h3v1h-3zM268,678h3v1h-3zM267,679h1v1h-1zM271,679h1v1h-1zM267,680h1v1h-1zM271,680h1v1h-1zM267,681h1v1h-1zM271,681h1v1h-1zM267,682h1v1h-1zM271,682h1v1h-1zM267,683h1v1h-1zM271,683h1v1h-1zM267,684h1v1h-1zM271,684h1v1h-1zM267,685h1v1h-1zM271,685h1v1h-1zM268,686h3v1h-3z" fill="#000080"/>
<path d="M299,678h1v1h-1zM297,679h3v1h-3zM299,680h1v1h-1zM299,681h1v1h-1zM299,682h1v1h-1zM299,683h1v1h-1zM299,684h1v1h-1zM299,685h1v1h-1zM299,686h1v1h-1zM303,678h5v1h-5zM303,679h1v1h-1zM303,680h1v1h-1zM303,681h4v1h-4zM303,682h1v1h-1zM307,682h1v1h-1zM307,683h1v1h-1zM307,684h1v1h-1zM303,685h1v1h-1zM307,685h1v1h-1zM304,686h3v1h-3zM309,681h1v1h-1zM309,686h1v1h-1zM313,678h3v1h-3zM312,679h1v1h-1zM316,679h1v1h-1zM312,680h1v1h-1zM316,680h1v1h-1zM312,681h1v1h-1zM316,681h1v1h-1zM312,682h1v1h-1zM316,682h1v1h-1zM312,683h1v1h-1zM316,683h1v1h-1zM312,684h1v1h-1zM316,684h1v1h-1zM312,685h1v1h-1zM316,685h1v1h-1zM313,686h3v1h-3zM319,678h3v1h-3zM318,679h1v1h-1zM322,679h1v1h-1zM318,680h1v1h-1zM322,680h1v1h-1zM318,681h1v1h-1zM322,681h1v1h-1zM318,682h1v1h-1zM322,682h1v1h-1zM318,683h1v1h-1zM322,683h1v1h-1zM318,684h1v1h-1zM322,684h1v1h-1zM318,685h1v1h-1zM322,685h1v1h-1zM319,686h3v1h-3z" fill="#000080"/>
<path d="M350,678h1v1h-1zM348,679h3v1h-3zM350,680h1v1h-1zM350,681h1v1h-1zM350,682h1v1h-1zM350,683h1v1h-1zM350,684h1v1h-1zM350,685h1v1h-1zM350,686h1v1h-1zM355,678h3v1h-3zM354,679h1v1h-1zM358,679h1v1h-1zM354,680h1v1h-1zM354,681h1v1h-1zM354,682h4v1h-4zM354,683h1v1h-1zM358,683h1v1h-1zM354,684h1v1h-1zM358,684h1v1h-1zM354,685h1v1h-1zM358,685h1v1h-1zM355,686h3v1h-3zM360,681h1v1h-1zM360,686h1v1h-1zM364,678h3v1h-3zM363,679h1v1h-1zM367,679h1v1h-1zM363,680h1v1h-1zM367,680h1v1h-1zM363,681h1v1h-1zM367,681h1v1h-1zM363,682h1v1h-1zM367,682h1v1h-1zM363,683h1v1h-1zM367,683h1v1h-1zM363,684h1v1h-1zM367,684h1v1h-1zM363,685h1v1h-1zM367,685h1v1h-1zM364,686h3v1h-3zM370,678h3v1h-3zM369,679h1v1h-1zM373,679h1v1h-1zM369,680h1v1h-1zM373,680h1v1h-1zM369,681h1v1h-1zM373,681h1v1h-1zM369,682h1v1h-1zM373,682h1v1h-1zM369,683h1v1h-1zM373,683h1v1h-1zM369,684h1v1h-1zM373,684h1v1h-1zM369,685h1v1h-1zM373,685h1v1h-1zM370,686h3v1h-3z" fill="#000080"/>
<path d="M400,678h1v1h-1zM398,679h3v1h-3zM400,680h1v1h-1zM400,681h1v1h-1zM400,682h1v1h-1zM400,683h1v1h-1zM400,684h1v1h-1zM400,685h1v1h-1zM400,686h1v1h-1zM404,678h5v1h-5zM408,679h1v1h-1zM407,680h1v1h-1zM407,681h1v1h-1zM406,682h1v1h-1zM406,683h1v1h-1zM405,684h1v1h-1zM405,685h1v1h-1zM405,686h1v1h-1zM410,681h1v1h-1zM410,686h1v1h-1zM414,678h3v1h-3zM413,679h1v1h-1zM417,679h1v1h-1zM413,680h1v1h-1zM417,680h1v1h-1zM413,681h1v1h-1zM417,681h1v1h-1zM413,682h1v1h-1zM417,682h1v1h-1zM413,683h1v1h-1zM417,683h1v1h-1zM413,684h1v1h-1zM417,684h1v1h-1zM413,685h1v1h-1zM417,685h1v1h-1zM414,686h3v1h-3zM420,678h3v1h-3zM419,679h1v1h-1zM423,679h1v1h-1zM419,680h1v1h-1zM423,680h1v1h-1zM419,681h1v1h-1zM423,681h1v1h-1zM419,682h1v1h-1zM423,682h1v1h-1zM419,683h1v1h-1zM423,683h1v1h-1zM419,684h1v1h-1zM423,684h1v1h-1zM419,685h1v1h-1zM423,685h1v1h-1zM420,686h3v1h-3z" fill="#000080"/>
<path d="M450,678h3v1h-3zM449,679h1v1h-1zM453,679h1v1h-1zM453,680h1v1h-1zM453,681h1v1h-1zM452,682h1v1h-1zM451,683h1v1h-1zM450,684h1v1h-1zM449,685h1v1h-1zM449,686h5v1h-5zM456,678h3v1h-3zM455,679h1v1h-1zM459,679h1v1h-1zM455,680h1v1h-1zM459,680h1v1h-1zM455,681h1v1h-1zM459,681h1v1h-1zM456,682h4v1h-4zM459,683h1v1h-1zM459,684h1v1h-1zM455,685h1v1h-1zM459,685h1v1h-1zM456,686h3v1h-3zM461,686h1v1h-1z" fill="#000080"/>
<path d="M489,678h1v1h-1zM487,679h3v1h-3zM489,680h1v1h-1zM489,681h1v1h-1zM489,682h1v1h-1zM489,683h1v1h-1zM489,684h1v1h-1zM489,685h1v1h-1zM489,686h1v1h-1zM494,678h3v1h-3zM493,679h1v1h-1zM497,679h1v1h-1zM493,680h1v1h-1zM497,680h1v1h-1zM493,681h1v1h-1zM497,681h1v1h-1zM493,682h1v1h-1zM497,682h1v1h-1zM493,683h1v1h-1zM497,683h1v1h-1zM493,684h1v1h-1zM497,684h1v1h-1zM493,685h1v1h-1zM497,685h1v1h-1zM494,686h3v1h-3zM499,681h1v1h-1zM499,686h1v1h-1zM503,678h3v1h-3zM502,679h1v1h-1zM506,679h1v1h-1zM502,680h1v1h-1zM506,680h1v1h-1zM502,681h1v1h-1zM506,681h1v1h-1zM502,682h1v1h-1zM506,682h1v1h-1zM502,683h1v1h-1zM506,683h1v1h-1zM502,684h1v1h-1zM506,684h1v1h-1zM502,685h1v1h-1zM506,685h1v1h-1zM503,686h3v1h-3zM509,678h3v1h-3zM508,679h1v1h-1zM512,679h1v1h-1zM508,680h1v1h-1zM512,680h1v1h-1zM508,681h1v1h-1zM512,681h1v1h-1zM508,682h1v1h-1zM512,682h1v1h-1zM508,683h1v1h-1zM512,683h1v1h-1zM508,684h1v1h-1zM512,684h1v1h-1zM508,685h1v1h-1zM512,685h1v1h-1zM509,686h3v1h-3z" fill="#000080"/>
<path d="M540,678h1v1h-1zM538,679h3v1h-3zM540,680h1v1h-1zM540,681h1v1h-1zM540,682h1v1h-1zM540,683h1v1h-1zM540,684h1v1h-1zM540,685h1v1h-1zM540,686h1v1h-1zM546,678h1v1h-1zM544,679h3v1h-3zM546,680h1v1h-1zM546,681h1v1h-1zM546,682h1v1h-1zM546,683h1v1h-1zM546,684h1v1h-1zM546,685h1v1h-1zM546,686h1v1h-1zM550,681h1v1h-1zM550,686h1v1h-1zM554,678h3v1h-3zM553,679h1v1h-1zM557,679h1v1h-1zM553,680h1v1h-1zM557,680h1v1h-1zM553,681h1v1h-1zM557,681h1v1h-1zM553,682h1v1h-1zM557,682h1v1h-1zM553,683h1v1h-1zM557,683h1v1h-1zM553,684h1v1h-1zM557,684h1v1h-1zM553,685h1v1h-1zM557,685h1v1h-1zM554,686h3v1h-3zM560,678h3v1h-3zM559,679h1v1h-1zM563,679h1v1h-1zM559,680h1v1h-1zM563,680h1v1h-1zM559,681h1v1h-1zM563,681h1v1h-1zM559,682h1v1h-1zM563,682h1v1h-1zM559,683h1v1h-1zM563,683h1v1h-1zM559,684h1v1h-1zM563,684h1v1h-1zM559,685h1v1h-1zM563,685h1v1h-1zM560,686h3v1h-3z" fill="#000080"/>
<path d="M591,678h1v1h-1zM589,679h3v1h-3zM591,680h1v1h-1zM591,681h1v1h-1zM591,682h1v1h-1zM591,683h1v1h-1zM591,684h1v1h-1zM591,685h1v1h-1zM591,686h1v1h-1zM596,678h3v1h-3zM595,679h1v1h-1zM599,679h1v1h-1zM599,680h1v1h-1zM599,681h1v1h-1zM598,682h1v1h-1zM597,683h1v1h-1zM596,684h1v1h-1zM595,685h1v1h-1zM595,686h5v1h-5zM601,681h1v1h-1zM601,686h1v1h-1zM605,678h3v1h-3zM604,679h1v1h-1zM608,679h1v1h-1zM604,680h1v1h-1zM608,680h1v1h-1zM604,681h1v1h-1zM608,681h1v1h-1zM604,682h1v1h-1zM608,682h1v1h-1zM604,683h1v1h-1zM608,683h1v1h-1zM604,684h1v1h-1zM608,684h1v1h-1zM604,685h1v1h-1zM608,685h1v1h-1zM605,686h3v1h-3zM611,678h3v1h-3zM610,679h1v1h-1zM614,679h1v1h-1zM610,680h1v1h-1zM614,680h1v1h-1zM610,681h1v1h-1zM614,681h1v1h-1zM610,682h1v1h-1zM614,682h1v1h-1zM610,683h1v1h-1zM614,683h1v1h-1zM610,684h1v1h-1zM614,684h1v1h-1zM610,685h1v1h-1zM614,685h1v1h-1zM611,686h3v1h-3z" fill="#000080"/>
<path d="M642,678h1v1h-1zM640,679h3v1h-3zM642,680h1v1h-1zM642,681h1v1h-1zM642,682h1v1h-1zM642,683h1v1h-1zM642,684h1v1h-1zM642,685h1v1h-1zM642,686h1v1h-1zM647,678h3v1h-3zM646,679h1v1h-1zM650,679h1v1h-1zM650,680h1v1h-1zM650,681h1v1h-1zM648,682h2v1h-2zM650,683h1v1h-1zM650,684h1v1h-1zM646,685h1v1h-1zM650,685h1v1h-1zM647,686h3v1h-3zM652,681h1v1h-1zM652,686h1v1h-1zM656,678h3v1h-3zM655,679h1v1h-1zM659,679h1v1h-1zM655,680h1v1h-1zM659,680h1v1h-1zM655,681h1v1h-1zM659,681h1v1h-1zM655,682h1v1h-1zM659,682h1v1h-1zM655,683h1v1h-1zM659,683h1v1h-1zM655,684h1v1h-1zM659,684h1v1h-1zM655,685h1v1h-1zM659,685h1v1h-1zM656,686h3v1h-3zM662,678h3v1h-3zM661,679h1v1h-1zM665,679h1v1h-1zM661,680h1v1h-1zM665,680h1v1h-1zM661,681h1v1h-1zM665,681h1v1h-1zM661,682h1v1h-1zM665,682h1v1h-1zM661,683h1v1h-1zM665,683h1v1h-1zM661,684h1v1h-1zM665,684h1v1h-1zM661,685h1v1h-1zM665,685h1v1h-1zM662,686h3v1h-3z" fill="#000080"/>
<path d="M692,678h1v1h-1zM690,679h3v1h-3zM692,680h1v1h-1zM692,681h1v1h-1zM692,682h1v1h-1zM692,683h1v1h-1zM692,684h1v1h-1zM692,685h1v1h-1zM692,686h1v1h-1zM699,678h1v1h-1zM698,679h2v1h-2zM698,680h2v1h-2zM697,681h1v1h-1zM699,681h1v1h-1zM697,682h1v1h-1zM699,682h1v1h-1zM696,683h1v1h-1zM699,683h1v1h-1zM696,684h5v1h-5zM699,685h1v1h-1zM699,686h1v1h-1zM702,681h1v1h-1zM702,686h1v1h-1zM706,678h3v1h-3zM705,679h1v1h-1zM709,679h1v1h-1zM705,680h1v1h-1zM709,680h1v1h-1zM705,681h1v1h-1zM709,681h1v1h-1zM705,682h1v1h-1zM709,682h1v1h-1zM705,683h1v1h-1zM709,683h1v1h-1zM705,684h1v1h-1zM709,684h1v1h-1zM705,685h1v1h-1zM709,685h1v1h-1zM706,686h3v1h-3zM712,678h3v1h-3zM711,679h1v1h-1zM715,679h1v1h-1zM711,680h1v1h-1zM715,680h1v1h-1zM711,681h1v1h-1zM715,681h1v1h-1zM711,682h1v1h-1zM715,682h1v1h-1zM711,683h1v1h-1zM715,683h1v1h-1zM711,684h1v1h-1zM715,684h1v1h-1zM711,685h1v1h-1zM715,685h1v1h-1zM712,686h3v1h-3z" fill="#000080"/>
<path d="M743,678h1v1h-1zM741,679h3v1h-3zM743,680h1v1h-1zM743,681h1v1h-1zM743,682h1v1h-1zM743,683h1v1h-1zM743,684h1v1h-1zM743,685h1v1h-1zM743,686h1v1h-1zM747,678h5v1h-5zM747,679h1v1h-1zM747,680h1v1h-1zM747,681h4v1h-4zM747,682h1v1h-1zM751,682h1v1h-1zM751,683h1v1h-1zM751,684h1v1h-1zM747,685h1v1h-1zM751,685h1v1h-1zM748,686h3v1h-3zM753,681h1v1h-1zM753,686h1v1h-1zM757,678h3v1h-3zM756,679h1v1h-1zM760,679h1v1h-1zM756,680h1v1h-1zM760,680h1v1h-1zM756,681h1v1h-1zM760,681h1v1h-1zM756,682h1v1h-1zM760,682h1v1h-1zM756,683h1v1h-1zM760,683h1v1h-1zM756,684h1v1h-1zM760,684h1v1h-1zM756,685h1v1h-1zM760,685h1v1h-1zM757,686h3v1h-3zM763,678h3v1h-3zM762,679h1v1h-1zM766,679h1v1h-1zM762,680h1v1h-1zM766,680h1v1h-1zM762,681h1v1h-1zM766,681h1v1h-1zM762,682h1v1h-1zM766,682h1v1h-1zM762,683h1v1h-1zM766,683h1v1h-1zM762,684h1v1h-1zM766,684h1v1h-1zM762,685h1v1h-1zM766,685h1v1h-1zM763,686h3v1h-3z" fill="#000080"/>
<path d="M794,678h1v1h-1zM792,679h3v1h-3zM794,680h1v1h-1zM794,681h1v1h-1zM794,682h1v1h-1zM794,683h1v1h-1zM794,684h1v1h-1zM794,685h1v1h-1zM794,686h1v1h-1zM799,678h3v1h-3zM798,679h1v1h-1zM802,679h1v1h-1zM798,680h1v1h-1zM798,681h1v1h-1zM798,682h4v1h-4zM798,683h1v1h-1zM802,683h1v1h-1zM798,684h1v1h-1zM802,684h1v1h-1zM798,685h1v1h-1zM802,685h1v1h-1zM799,686h3v1h-3zM804,681h1v1h-1zM804,686h1v1h-1zM808,678h3v1h-3zM807,679h1v1h-1zM811,679h1v1h-1zM807,680h1v1h-1zM811,680h1v1h-1zM807,681h1v1h-1zM811,681h1v1h-1zM807,682h1v1h-1zM811,682h1v1h-1zM807,683h1v1h-1zM811,683h1v1h-1zM807,684h1v1h-1zM811,684h1v1h-1zM807,685h1v1h-1zM811,685h1v1h-1zM808,686h3v1h-3zM814,678h3v1h-3zM813,679h1v1h-1zM817,679h1v1h-1zM813,680h1v1h-1zM817,680h1v1h-1zM813,681h1v1h-1zM817,681h1v1h-1zM813,682h1v1h-1zM817,682h1v1h-1zM813,683h1v1h-1zM817,683h1v1h-1zM813,684h1v1h-1zM817,684h1v1h-1zM813,685h1v1h-1zM817,685h1v1h-1zM814,686h3v1h-3z" fill="#000080"/>
<path d="M845,678h1v1h-1zM843,679h3v1h-3zM845,680h1v1h-1zM845,681h1v1h-1zM845,682h1v1h-1zM845,683h1v1h-1zM845,684h1v1h-1zM845,685h1v1h-1zM845,686h1v1h-1zM849,678h5v1h-5zM853,679h1v1h-1zM852,680h1v1h-1zM852,681h1v1h-1zM851,682h1v1h-1zM851,683h1v1h-1zM850,684h1v1h-1zM850,685h1v1h-1zM850,686h1v1h-1zM855,681h1v1h-1zM855,686h1v1h-1zM859,678h3v1h-3zM858,679h1v1h-1zM862,679h1v1h-1zM858,680h1v1h-1zM862,680h1v1h-1zM858,681h1v1h-1zM862,681h1v1h-1zM858,682h1v1h-1zM862,682h1v1h-1zM858,683h1v1h-1zM862,683h1v1h-1zM858,684h1v1h-1zM862,684h1v1h-1zM858,685h1v1h-1zM862,685h1v1h-1zM859,686h3v1h-3zM865,678h3v1h-3zM864,679h1v1h-1zM868,679h1v1h-1zM864,680h1v1h-1zM868,680h1v1h-1zM864,681h1v1h-1zM868,681h1v1h-1zM864,682h1v1h-1zM868,682h1v1h-1zM864,683h1v1h-1zM868,683h1v1h-1zM864,684h1v1h-1zM868,684h1v1h-1zM864,685h1v1h-1zM868,685h1v1h-1zM865,686h3v1h-3z" fill="#000080"/>
<text x="336" y="709" fill="#8c8c8c" font-size="10" text-anchor="start" textLength="55.5" lengthAdjust="spacingAndGlyphs" filter="url(#crisp)">TradeSignal®</text>
<text x="394" y="709" fill="#8c8c8c" font-size="10" text-anchor="start" textLength="14.5" lengthAdjust="spacingAndGlyphs" filter="url(#crisp)">and</text>
<text x="412" y="709" fill="#8c8c8c" font-size="10" text-anchor="start" textLength="107.5" lengthAdjust="spacingAndGlyphs" filter="url(#crisp)">www.technical-investor.de</text>
<text x="523" y="709" fill="#8c8c8c" font-size="10" text-anchor="start" textLength="7.5" lengthAdjust="spacingAndGlyphs" filter="url(#crisp)">©</text>
<text x="533" y="709" fill="#8c8c8c" font-size="10" text-anchor="start" textLength="10" lengthAdjust="spacingAndGlyphs" filter="url(#crisp)">by</text>
<text x="547.5" y="709" fill="#8c8c8c" font-size="10" text-anchor="start" textLength="53" lengthAdjust="spacingAndGlyphs" filter="url(#crisp)">SystemSoft,</text>
<text x="603.7" y="709" fill="#8c8c8c" font-size="10" text-anchor="start" textLength="83.3" lengthAdjust="spacingAndGlyphs" filter="url(#crisp)">www.systemsoft.de</text>
<text x="60.3" y="14" fill="#000000" font-size="13" text-anchor="start" textLength="25.19" lengthAdjust="spacingAndGlyphs" filter="url(#crisp)">DAX,</text>
<text x="103.2" y="14" fill="#000000" font-size="13" text-anchor="start" textLength="38.4" lengthAdjust="spacingAndGlyphs" filter="url(#crisp)">Minuten</text>
<path d="M20,5h3v1h-3zM19,6h1v1h-1zM23,6h1v1h-1zM19,7h1v1h-1zM23,7h1v1h-1zM19,8h1v1h-1zM23,8h1v1h-1zM20,9h3v1h-3zM19,10h1v1h-1zM23,10h1v1h-1zM19,11h1v1h-1zM23,11h1v1h-1zM19,12h1v1h-1zM23,12h1v1h-1zM20,13h3v1h-3zM28,5h1v1h-1zM27,6h2v1h-2zM27,7h2v1h-2zM26,8h1v1h-1zM28,8h1v1h-1zM26,9h1v1h-1zM28,9h1v1h-1zM25,10h1v1h-1zM28,10h1v1h-1zM25,11h5v1h-5zM28,12h1v1h-1zM28,13h1v1h-1zM32,5h3v1h-3zM31,6h1v1h-1zM35,6h1v1h-1zM31,7h1v1h-1zM31,8h1v1h-1zM31,9h4v1h-4zM31,10h1v1h-1zM35,10h1v1h-1zM31,11h1v1h-1zM35,11h1v1h-1zM31,12h1v1h-1zM35,12h1v1h-1zM32,13h3v1h-3zM38,5h3v1h-3zM37,6h1v1h-1zM41,6h1v1h-1zM37,7h1v1h-1zM41,7h1v1h-1zM37,8h1v1h-1zM41,8h1v1h-1zM38,9h4v1h-4zM41,10h1v1h-1zM41,11h1v1h-1zM37,12h1v1h-1zM41,12h1v1h-1zM38,13h3v1h-3zM44,5h3v1h-3zM43,6h1v1h-1zM47,6h1v1h-1zM43,7h1v1h-1zM47,7h1v1h-1zM43,8h1v1h-1zM47,8h1v1h-1zM43,9h1v1h-1zM47,9h1v1h-1zM43,10h1v1h-1zM47,10h1v1h-1zM43,11h1v1h-1zM47,11h1v1h-1zM43,12h1v1h-1zM47,12h1v1h-1zM44,13h3v1h-3zM50,5h3v1h-3zM49,6h1v1h-1zM53,6h1v1h-1zM49,7h1v1h-1zM53,7h1v1h-1zM49,8h1v1h-1zM53,8h1v1h-1zM49,9h1v1h-1zM53,9h1v1h-1zM49,10h1v1h-1zM53,10h1v1h-1zM49,11h1v1h-1zM53,11h1v1h-1zM49,12h1v1h-1zM53,12h1v1h-1zM50,13h3v1h-3z" fill="#000000"/>
<path d="M91,5h1v1h-1zM89,6h3v1h-3zM91,7h1v1h-1zM91,8h1v1h-1zM91,9h1v1h-1zM91,10h1v1h-1zM91,11h1v1h-1zM91,12h1v1h-1zM91,13h1v1h-1zM95,5h5v1h-5zM95,6h1v1h-1zM95,7h1v1h-1zM95,8h4v1h-4zM95,9h1v1h-1zM99,9h1v1h-1zM99,10h1v1h-1zM99,11h1v1h-1zM95,12h1v1h-1zM99,12h1v1h-1zM96,13h3v1h-3z" fill="#000000"/>
<path d="M145,10h2v1h-2z" fill="#000000"/>
<path d="M152,5h3v1h-3zM151,6h1v1h-1zM155,6h1v1h-1zM155,7h1v1h-1zM155,8h1v1h-1zM154,9h1v1h-1zM153,10h1v1h-1zM152,11h1v1h-1zM151,12h1v1h-1zM151,13h5v1h-5zM160,5h1v1h-1zM159,6h2v1h-2zM159,7h2v1h-2zM158,8h1v1h-1zM160,8h1v1h-1zM158,9h1v1h-1zM160,9h1v1h-1zM157,10h1v1h-1zM160,10h1v1h-1zM157,11h5v1h-5zM160,12h1v1h-1zM160,13h1v1h-1zM163,13h1v1h-1zM167,5h3v1h-3zM166,6h1v1h-1zM170,6h1v1h-1zM166,7h1v1h-1zM170,7h1v1h-1zM166,8h1v1h-1zM170,8h1v1h-1zM166,9h1v1h-1zM170,9h1v1h-1zM166,10h1v1h-1zM170,10h1v1h-1zM166,11h1v1h-1zM170,11h1v1h-1zM166,12h1v1h-1zM170,12h1v1h-1zM167,13h3v1h-3zM173,5h3v1h-3zM172,6h1v1h-1zM176,6h1v1h-1zM176,7h1v1h-1zM176,8h1v1h-1zM174,9h2v1h-2zM176,10h1v1h-1zM176,11h1v1h-1zM172,12h1v1h-1zM176,12h1v1h-1zM173,13h3v1h-3zM178,13h1v1h-1zM182,5h3v1h-3zM181,6h1v1h-1zM185,6h1v1h-1zM185,7h1v1h-1zM185,8h1v1h-1zM184,9h1v1h-1zM183,10h1v1h-1zM182,11h1v1h-1zM181,12h1v1h-1zM181,13h5v1h-5zM188,5h3v1h-3zM187,6h1v1h-1zM191,6h1v1h-1zM187,7h1v1h-1zM191,7h1v1h-1zM187,8h1v1h-1zM191,8h1v1h-1zM187,9h1v1h-1zM191,9h1v1h-1zM187,10h1v1h-1zM191,10h1v1h-1zM187,11h1v1h-1zM191,11h1v1h-1zM187,12h1v1h-1zM191,12h1v1h-1zM188,13h3v1h-3zM194,5h3v1h-3zM193,6h1v1h-1zM197,6h1v1h-1zM193,7h1v1h-1zM197,7h1v1h-1zM193,8h1v1h-1zM197,8h1v1h-1zM193,9h1v1h-1zM197,9h1v1h-1zM193,10h1v1h-1zM197,10h1v1h-1zM193,11h1v1h-1zM197,11h1v1h-1zM193,12h1v1h-1zM197,12h1v1h-1zM194,13h3v1h-3zM199,5h5v1h-5zM199,6h1v1h-1zM199,7h1v1h-1zM199,8h4v1h-4zM199,9h1v1h-1zM203,9h1v1h-1zM203,10h1v1h-1zM203,11h1v1h-1zM199,12h1v1h-1zM203,12h1v1h-1zM200,13h3v1h-3z" fill="#000000"/>
<path d="M209,5h3v1h-3zM208,6h1v1h-1zM212,6h1v1h-1zM208,7h1v1h-1zM212,7h1v1h-1zM208,8h1v1h-1zM212,8h1v1h-1zM208,9h1v1h-1zM212,9h1v1h-1zM208,10h1v1h-1zM212,10h1v1h-1zM208,11h1v1h-1zM212,11h1v1h-1zM208,12h1v1h-1zM212,12h1v1h-1zM209,13h3v1h-3zM215,5h3v1h-3zM214,6h1v1h-1zM218,6h1v1h-1zM214,7h1v1h-1zM218,7h1v1h-1zM214,8h1v1h-1zM218,8h1v1h-1zM215,9h4v1h-4zM218,10h1v1h-1zM218,11h1v1h-1zM214,12h1v1h-1zM218,12h1v1h-1zM215,13h3v1h-3zM220,8h1v1h-1zM220,13h1v1h-1zM224,5h3v1h-3zM223,6h1v1h-1zM227,6h1v1h-1zM227,7h1v1h-1zM227,8h1v1h-1zM225,9h2v1h-2zM227,10h1v1h-1zM227,11h1v1h-1zM223,12h1v1h-1zM227,12h1v1h-1zM224,13h3v1h-3zM230,5h3v1h-3zM229,6h1v1h-1zM233,6h1v1h-1zM229,7h1v1h-1zM233,7h1v1h-1zM229,8h1v1h-1zM233,8h1v1h-1zM229,9h1v1h-1zM233,9h1v1h-1zM229,10h1v1h-1zM233,10h1v1h-1zM229,11h1v1h-1zM233,11h1v1h-1zM229,12h1v1h-1zM233,12h1v1h-1zM230,13h3v1h-3zM235,8h1v1h-1zM235,13h1v1h-1zM239,5h3v1h-3zM238,6h1v1h-1zM242,6h1v1h-1zM238,7h1v1h-1zM242,7h1v1h-1zM238,8h1v1h-1zM242,8h1v1h-1zM238,9h1v1h-1zM242,9h1v1h-1zM238,10h1v1h-1zM242,10h1v1h-1zM238,11h1v1h-1zM242,11h1v1h-1zM238,12h1v1h-1zM242,12h1v1h-1zM239,13h3v1h-3zM245,5h3v1h-3zM244,6h1v1h-1zM248,6h1v1h-1zM244,7h1v1h-1zM248,7h1v1h-1zM244,8h1v1h-1zM248,8h1v1h-1zM244,9h1v1h-1zM248,9h1v1h-1zM244,10h1v1h-1zM248,10h1v1h-1zM244,11h1v1h-1zM248,11h1v1h-1zM244,12h1v1h-1zM248,12h1v1h-1zM245,13h3v1h-3z" fill="#000000"/>
<path d="M253,10h2v1h-2z" fill="#000000"/>
<path d="M260,5h3v1h-3zM259,6h1v1h-1zM263,6h1v1h-1zM263,7h1v1h-1zM263,8h1v1h-1zM262,9h1v1h-1zM261,10h1v1h-1zM260,11h1v1h-1zM259,12h1v1h-1zM259,13h5v1h-5zM266,5h3v1h-3zM265,6h1v1h-1zM269,6h1v1h-1zM265,7h1v1h-1zM269,7h1v1h-1zM265,8h1v1h-1zM269,8h1v1h-1zM266,9h4v1h-4zM269,10h1v1h-1zM269,11h1v1h-1zM265,12h1v1h-1zM269,12h1v1h-1zM266,13h3v1h-3zM271,13h1v1h-1zM275,5h3v1h-3zM274,6h1v1h-1zM278,6h1v1h-1zM274,7h1v1h-1zM278,7h1v1h-1zM274,8h1v1h-1zM278,8h1v1h-1zM274,9h1v1h-1zM278,9h1v1h-1zM274,10h1v1h-1zM278,10h1v1h-1zM274,11h1v1h-1zM278,11h1v1h-1zM274,12h1v1h-1zM278,12h1v1h-1zM275,13h3v1h-3zM281,5h3v1h-3zM280,6h1v1h-1zM284,6h1v1h-1zM284,7h1v1h-1zM284,8h1v1h-1zM282,9h2v1h-2zM284,10h1v1h-1zM284,11h1v1h-1zM280,12h1v1h-1zM284,12h1v1h-1zM281,13h3v1h-3zM286,13h1v1h-1zM290,5h3v1h-3zM289,6h1v1h-1zM293,6h1v1h-1zM293,7h1v1h-1zM293,8h1v1h-1zM292,9h1v1h-1zM291,10h1v1h-1zM290,11h1v1h-1zM289,12h1v1h-1zM289,13h5v1h-5zM296,5h3v1h-3zM295,6h1v1h-1zM299,6h1v1h-1zM295,7h1v1h-1zM299,7h1v1h-1zM295,8h1v1h-1zM299,8h1v1h-1zM295,9h1v1h-1zM299,9h1v1h-1zM295,10h1v1h-1zM299,10h1v1h-1zM295,11h1v1h-1zM299,11h1v1h-1zM295,12h1v1h-1zM299,12h1v1h-1zM296,13h3v1h-3zM302,5h3v1h-3zM301,6h1v1h-1zM305,6h1v1h-1zM301,7h1v1h-1zM305,7h1v1h-1zM301,8h1v1h-1zM305,8h1v1h-1zM301,9h1v1h-1zM305,9h1v1h-1zM301,10h1v1h-1zM305,10h1v1h-1zM301,11h1v1h-1zM305,11h1v1h-1zM301,12h1v1h-1zM305,12h1v1h-1zM302,13h3v1h-3zM307,5h5v1h-5zM307,6h1v1h-1zM307,7h1v1h-1zM307,8h4v1h-4zM307,9h1v1h-1zM311,9h1v1h-1zM311,10h1v1h-1zM311,11h1v1h-1zM307,12h1v1h-1zM311,12h1v1h-1zM308,13h3v1h-3z" fill="#000000"/>
<path d="M318,5h1v1h-1zM316,6h3v1h-3zM318,7h1v1h-1zM318,8h1v1h-1zM318,9h1v1h-1zM318,10h1v1h-1zM318,11h1v1h-1zM318,12h1v1h-1zM318,13h1v1h-1zM322,5h5v1h-5zM326,6h1v1h-1zM325,7h1v1h-1zM325,8h1v1h-1zM324,9h1v1h-1zM324,10h1v1h-1zM323,11h1v1h-1zM323,12h1v1h-1zM323,13h1v1h-1zM328,8h1v1h-1zM328,13h1v1h-1zM334,5h1v1h-1zM333,6h2v1h-2zM333,7h2v1h-2zM332,8h1v1h-1zM334,8h1v1h-1zM332,9h1v1h-1zM334,9h1v1h-1zM331,10h1v1h-1zM334,10h1v1h-1zM331,11h5v1h-5zM334,12h1v1h-1zM334,13h1v1h-1zM337,5h5v1h-5zM337,6h1v1h-1zM337,7h1v1h-1zM337,8h4v1h-4zM337,9h1v1h-1zM341,9h1v1h-1zM341,10h1v1h-1zM341,11h1v1h-1zM337,12h1v1h-1zM341,12h1v1h-1zM338,13h3v1h-3zM343,8h1v1h-1zM343,13h1v1h-1zM347,5h3v1h-3zM346,6h1v1h-1zM350,6h1v1h-1zM346,7h1v1h-1zM350,7h1v1h-1zM346,8h1v1h-1zM350,8h1v1h-1zM346,9h1v1h-1zM350,9h1v1h-1zM346,10h1v1h-1zM350,10h1v1h-1zM346,11h1v1h-1zM350,11h1v1h-1zM346,12h1v1h-1zM350,12h1v1h-1zM347,13h3v1h-3zM353,5h3v1h-3zM352,6h1v1h-1zM356,6h1v1h-1zM352,7h1v1h-1zM356,7h1v1h-1zM352,8h1v1h-1zM356,8h1v1h-1zM352,9h1v1h-1zM356,9h1v1h-1zM352,10h1v1h-1zM356,10h1v1h-1zM352,11h1v1h-1zM356,11h1v1h-1zM352,12h1v1h-1zM356,12h1v1h-1zM353,13h3v1h-3z" fill="#000000"/>
<path d="M361,10h2v1h-2z" fill="#000000"/>
<path d="M370,5h1v1h-1zM369,6h2v1h-2zM369,7h2v1h-2zM368,8h1v1h-1zM370,8h1v1h-1zM368,9h1v1h-1zM370,9h1v1h-1zM367,10h1v1h-1zM370,10h1v1h-1zM367,11h5v1h-5zM370,12h1v1h-1zM370,13h1v1h-1zM374,5h3v1h-3zM373,6h1v1h-1zM377,6h1v1h-1zM377,7h1v1h-1zM377,8h1v1h-1zM375,9h2v1h-2zM377,10h1v1h-1zM377,11h1v1h-1zM373,12h1v1h-1zM377,12h1v1h-1zM374,13h3v1h-3zM379,5h5v1h-5zM379,6h1v1h-1zM379,7h1v1h-1zM379,8h4v1h-4zM379,9h1v1h-1zM383,9h1v1h-1zM383,10h1v1h-1zM383,11h1v1h-1zM379,12h1v1h-1zM383,12h1v1h-1zM380,13h3v1h-3zM387,5h1v1h-1zM385,6h3v1h-3zM387,7h1v1h-1zM387,8h1v1h-1zM387,9h1v1h-1zM387,10h1v1h-1zM387,11h1v1h-1zM387,12h1v1h-1zM387,13h1v1h-1zM391,13h1v1h-1zM395,5h3v1h-3zM394,6h1v1h-1zM398,6h1v1h-1zM394,7h1v1h-1zM398,7h1v1h-1zM394,8h1v1h-1zM398,8h1v1h-1zM395,9h3v1h-3zM394,10h1v1h-1zM398,10h1v1h-1zM394,11h1v1h-1zM398,11h1v1h-1zM394,12h1v1h-1zM398,12h1v1h-1zM395,13h3v1h-3zM401,5h3v1h-3zM400,6h1v1h-1zM404,6h1v1h-1zM400,7h1v1h-1zM404,7h1v1h-1zM400,8h1v1h-1zM404,8h1v1h-1zM401,9h4v1h-4zM404,10h1v1h-1zM404,11h1v1h-1zM400,12h1v1h-1zM404,12h1v1h-1zM401,13h3v1h-3zM407,5h3v1h-3zM406,6h1v1h-1zM410,6h1v1h-1zM406,7h1v1h-1zM410,7h1v1h-1zM406,8h1v1h-1zM410,8h1v1h-1zM406,9h1v1h-1zM410,9h1v1h-1zM406,10h1v1h-1zM410,10h1v1h-1zM406,11h1v1h-1zM410,11h1v1h-1zM406,12h1v1h-1zM410,12h1v1h-1zM407,13h3v1h-3zM414,5h1v1h-1zM412,6h3v1h-3zM414,7h1v1h-1zM414,8h1v1h-1zM414,9h1v1h-1zM414,10h1v1h-1zM414,11h1v1h-1zM414,12h1v1h-1zM414,13h1v1h-1z" fill="#000000"/>
<text x="18" y="28" fill="#ff0000" font-size="13" text-anchor="start" textLength="149.6" lengthAdjust="spacingAndGlyphs" filter="url(#crisp)">KAMA [Close, 50]:4330.333997</text>
<rect x="7" y="200" width="1" height="26" fill="#000000"/>
<rect x="3" y="218" width="9" height="8" fill="#000000"/>
<rect x="4" y="219" width="7" height="6" fill="#ff0000"/>
<rect x="19" y="225" width="1" height="37" fill="#000000"/>
<rect x="15" y="225" width="9" height="10" fill="#000000"/>
<rect x="16" y="226" width="7" height="8" fill="#ff0000"/>
<rect x="32" y="219" width="1" height="31" fill="#000000"/>
<rect x="28" y="230" width="9" height="6" fill="#000000"/>
<rect x="29" y="231" width="7" height="4" fill="#0000ff"/>
<rect x="45" y="229" width="1" height="34" fill="#000000"/>
<rect x="41" y="230" width="9" height="7" fill="#000000"/>
<rect x="42" y="231" width="7" height="5" fill="#0000ff"/>
<rect x="57" y="228" width="1" height="16" fill="#000000"/>
<rect x="53" y="230" width="9" height="2" fill="#000000"/>
<rect x="70" y="226" width="1" height="22" fill="#000000"/>
<rect x="66" y="230" width="9" height="9" fill="#000000"/>
<rect x="67" y="231" width="7" height="7" fill="#ff0000"/>
<rect x="83" y="226" width="1" height="19" fill="#000000"/>
<rect x="79" y="237" width="9" height="3" fill="#000000"/>
<rect x="80" y="238" width="7" height="1" fill="#ff0000"/>
<rect x="95" y="231" width="1" height="22" fill="#000000"/>
<rect x="91" y="232" width="9" height="9" fill="#000000"/>
<rect x="92" y="233" width="7" height="7" fill="#0000ff"/>
<rect x="108" y="224" width="1" height="13" fill="#000000"/>
<rect x="104" y="232" width="9" height="2" fill="#000000"/>
<rect x="121" y="226" width="1" height="27" fill="#000000"/>
<rect x="117" y="231" width="9" height="16" fill="#000000"/>
<rect x="118" y="232" width="7" height="14" fill="#ff0000"/>
<rect x="133" y="233" width="1" height="17" fill="#000000"/>
<rect x="129" y="236" width="9" height="12" fill="#000000"/>
<rect x="130" y="237" width="7" height="10" fill="#0000ff"/>
<rect x="146" y="228" width="1" height="16" fill="#000000"/>
<rect x="142" y="230" width="9" height="8" fill="#000000"/>
<rect x="143" y="231" width="7" height="6" fill="#0000ff"/>
<rect x="159" y="219" width="1" height="19" fill="#000000"/>
<rect x="155" y="219" width="9" height="11" fill="#000000"/>
<rect x="156" y="220" width="7" height="9" fill="#0000ff"/>
<rect x="172" y="218" width="1" height="10" fill="#000000"/>
<rect x="168" y="219" width="9" height="3" fill="#000000"/>
<rect x="169" y="220" width="7" height="1" fill="#ff0000"/>
<rect x="184" y="195" width="1" height="27" fill="#000000"/>
<rect x="180" y="203" width="9" height="19" fill="#000000"/>
<rect x="181" y="204" width="7" height="17" fill="#0000ff"/>
<rect x="197" y="169" width="1" height="34" fill="#000000"/>
<rect x="193" y="192" width="9" height="10" fill="#000000"/>
<rect x="194" y="193" width="7" height="8" fill="#0000ff"/>
<rect x="210" y="187" width="1" height="20" fill="#000000"/>
<rect x="206" y="194" width="9" height="4" fill="#000000"/>
<rect x="207" y="195" width="7" height="2" fill="#0000ff"/>
<rect x="222" y="187" width="1" height="12" fill="#000000"/>
<rect x="218" y="193" width="9" height="4" fill="#000000"/>
<rect x="219" y="194" width="7" height="2" fill="#ff0000"/>
<rect x="235" y="183" width="1" height="14" fill="#000000"/>
<rect x="231" y="190" width="9" height="7" fill="#000000"/>
<rect x="232" y="191" width="7" height="5" fill="#0000ff"/>
<rect x="248" y="167" width="1" height="24" fill="#000000"/>
<rect x="244" y="179" width="9" height="12" fill="#000000"/>
<rect x="245" y="180" width="7" height="10" fill="#0000ff"/>
<rect x="260" y="166" width="1" height="18" fill="#000000"/>
<rect x="256" y="179" width="9" height="4" fill="#000000"/>
<rect x="257" y="180" width="7" height="2" fill="#ff0000"/>
<rect x="273" y="163" width="1" height="42" fill="#000000"/>
<rect x="269" y="163" width="9" height="20" fill="#000000"/>
<rect x="270" y="164" width="7" height="18" fill="#0000ff"/>
<rect x="286" y="165" width="1" height="21" fill="#000000"/>
<rect x="282" y="167" width="9" height="5" fill="#000000"/>
<rect x="283" y="168" width="7" height="3" fill="#ff0000"/>
<rect x="299" y="171" width="1" height="18" fill="#000000"/>
<rect x="295" y="171" width="9" height="13" fill="#000000"/>
<rect x="296" y="172" width="7" height="11" fill="#ff0000"/>
<rect x="311" y="179" width="1" height="14" fill="#000000"/>
<rect x="307" y="184" width="9" height="4" fill="#000000"/>
<rect x="308" y="185" width="7" height="2" fill="#ff0000"/>
<rect x="324" y="165" width="1" height="29" fill="#000000"/>
<rect x="320" y="169" width="9" height="19" fill="#000000"/>
<rect x="321" y="170" width="7" height="17" fill="#0000ff"/>
<rect x="337" y="112" width="1" height="66" fill="#000000"/>
<rect x="333" y="119" width="9" height="54" fill="#000000"/>
<rect x="334" y="120" width="7" height="52" fill="#0000ff"/>
<rect x="349" y="95" width="1" height="29" fill="#000000"/>
<rect x="345" y="117" width="9" height="3" fill="#000000"/>
<rect x="346" y="118" width="7" height="1" fill="#0000ff"/>
<rect x="362" y="118" width="1" height="32" fill="#000000"/>
<rect x="358" y="118" width="9" height="4" fill="#000000"/>
<rect x="359" y="119" width="7" height="2" fill="#ff0000"/>
<rect x="375" y="85" width="1" height="39" fill="#000000"/>
<rect x="371" y="91" width="9" height="33" fill="#000000"/>
<rect x="372" y="92" width="7" height="31" fill="#0000ff"/>
<rect x="387" y="83" width="1" height="26" fill="#000000"/>
<rect x="383" y="87" width="9" height="21" fill="#000000"/>
<rect x="384" y="88" width="7" height="19" fill="#ff0000"/>
<rect x="400" y="106" width="1" height="33" fill="#000000"/>
<rect x="396" y="107" width="9" height="25" fill="#000000"/>
<rect x="397" y="108" width="7" height="23" fill="#ff0000"/>
<rect x="413" y="103" width="1" height="31" fill="#000000"/>
<rect x="409" y="122" width="9" height="8" fill="#000000"/>
<rect x="410" y="123" width="7" height="6" fill="#0000ff"/>
<rect x="426" y="105" width="1" height="14" fill="#000000"/>
<rect x="422" y="105" width="9" height="14" fill="#000000"/>
<rect x="423" y="106" width="7" height="12" fill="#0000ff"/>
<rect x="438" y="143" width="1" height="46" fill="#000000"/>
<rect x="434" y="164" width="9" height="8" fill="#000000"/>
<rect x="435" y="165" width="7" height="6" fill="#0000ff"/>
<rect x="451" y="162" width="1" height="34" fill="#000000"/>
<rect x="447" y="166" width="9" height="23" fill="#000000"/>
<rect x="448" y="167" width="7" height="21" fill="#ff0000"/>
<rect x="464" y="182" width="1" height="27" fill="#000000"/>
<rect x="460" y="184" width="9" height="25" fill="#000000"/>
<rect x="461" y="185" width="7" height="23" fill="#ff0000"/>
<rect x="476" y="202" width="1" height="70" fill="#000000"/>
<rect x="472" y="207" width="9" height="65" fill="#000000"/>
<rect x="473" y="208" width="7" height="63" fill="#ff0000"/>
<rect x="489" y="263" width="1" height="38" fill="#000000"/>
<rect x="485" y="271" width="9" height="17" fill="#000000"/>
<rect x="486" y="272" width="7" height="15" fill="#ff0000"/>
<rect x="502" y="260" width="1" height="33" fill="#000000"/>
<rect x="498" y="260" width="9" height="31" fill="#000000"/>
<rect x="499" y="261" width="7" height="29" fill="#0000ff"/>
<rect x="514" y="250" width="1" height="20" fill="#000000"/>
<rect x="510" y="252" width="9" height="9" fill="#000000"/>
<rect x="511" y="253" width="7" height="7" fill="#0000ff"/>
<rect x="527" y="249" width="1" height="13" fill="#000000"/>
<rect x="523" y="254" width="9" height="3" fill="#000000"/>
<rect x="524" y="255" width="7" height="1" fill="#ff0000"/>
<rect x="540" y="248" width="1" height="10" fill="#000000"/>
<rect x="536" y="254" width="9" height="3" fill="#000000"/>
<rect x="537" y="255" width="7" height="1" fill="#0000ff"/>
<rect x="552" y="254" width="1" height="25" fill="#000000"/>
<rect x="548" y="254" width="9" height="21" fill="#000000"/>
<rect x="549" y="255" width="7" height="19" fill="#ff0000"/>
<rect x="565" y="263" width="1" height="17" fill="#000000"/>
<rect x="561" y="264" width="9" height="11" fill="#000000"/>
<rect x="562" y="265" width="7" height="9" fill="#0000ff"/>
<rect x="578" y="254" width="1" height="16" fill="#000000"/>
<rect x="574" y="263" width="9" height="3" fill="#000000"/>
<rect x="575" y="264" width="7" height="1" fill="#ff0000"/>
<rect x="591" y="261" width="1" height="16" fill="#000000"/>
<rect x="587" y="266" width="9" height="5" fill="#000000"/>
<rect x="588" y="267" width="7" height="3" fill="#ff0000"/>
<rect x="603" y="257" width="1" height="17" fill="#000000"/>
<rect x="599" y="259" width="9" height="11" fill="#000000"/>
<rect x="600" y="260" width="7" height="9" fill="#0000ff"/>
<rect x="616" y="246" width="1" height="18" fill="#000000"/>
<rect x="612" y="247" width="9" height="13" fill="#000000"/>
<rect x="613" y="248" width="7" height="11" fill="#0000ff"/>
<rect x="629" y="243" width="1" height="43" fill="#000000"/>
<rect x="625" y="247" width="9" height="36" fill="#000000"/>
<rect x="626" y="248" width="7" height="34" fill="#ff0000"/>
<rect x="641" y="262" width="1" height="22" fill="#000000"/>
<rect x="637" y="267" width="9" height="15" fill="#000000"/>
<rect x="638" y="268" width="7" height="13" fill="#0000ff"/>
<rect x="654" y="265" width="1" height="14" fill="#000000"/>
<rect x="650" y="268" width="9" height="1" fill="#000000"/>
<rect x="667" y="253" width="1" height="17" fill="#000000"/>
<rect x="663" y="256" width="9" height="14" fill="#000000"/>
<rect x="664" y="257" width="7" height="12" fill="#0000ff"/>
<rect x="679" y="252" width="1" height="11" fill="#000000"/>
<rect x="675" y="253" width="9" height="4" fill="#000000"/>
<rect x="676" y="254" width="7" height="2" fill="#0000ff"/>
<rect x="692" y="248" width="1" height="9" fill="#000000"/>
<rect x="688" y="251" width="9" height="3" fill="#000000"/>
<rect x="689" y="252" width="7" height="1" fill="#0000ff"/>
<rect x="705" y="232" width="1" height="24" fill="#000000"/>
<rect x="701" y="232" width="9" height="20" fill="#000000"/>
<rect x="702" y="233" width="7" height="18" fill="#0000ff"/>
<rect x="718" y="222" width="1" height="14" fill="#000000"/>
<rect x="714" y="224" width="9" height="10" fill="#000000"/>
<rect x="715" y="225" width="7" height="8" fill="#0000ff"/>
<rect x="730" y="204" width="1" height="20" fill="#000000"/>
<rect x="726" y="215" width="9" height="9" fill="#000000"/>
<rect x="727" y="216" width="7" height="7" fill="#0000ff"/>
<rect x="743" y="201" width="1" height="16" fill="#000000"/>
<rect x="739" y="212" width="9" height="4" fill="#000000"/>
<rect x="740" y="213" width="7" height="2" fill="#0000ff"/>
<rect x="756" y="199" width="1" height="17" fill="#000000"/>
<rect x="752" y="199" width="9" height="15" fill="#000000"/>
<rect x="753" y="200" width="7" height="13" fill="#0000ff"/>
<rect x="768" y="152" width="1" height="47" fill="#000000"/>
<rect x="764" y="153" width="9" height="46" fill="#000000"/>
<rect x="765" y="154" width="7" height="44" fill="#0000ff"/>
<rect x="781" y="142" width="1" height="22" fill="#000000"/>
<rect x="777" y="152" width="9" height="6" fill="#000000"/>
<rect x="778" y="153" width="7" height="4" fill="#0000ff"/>
<rect x="794" y="125" width="1" height="30" fill="#000000"/>
<rect x="790" y="137" width="9" height="18" fill="#000000"/>
<rect x="791" y="138" width="7" height="16" fill="#0000ff"/>
<rect x="806" y="134" width="1" height="15" fill="#000000"/>
<rect x="802" y="136" width="9" height="13" fill="#000000"/>
<rect x="803" y="137" width="7" height="11" fill="#ff0000"/>
<rect x="819" y="89" width="1" height="62" fill="#000000"/>
<rect x="815" y="91" width="9" height="58" fill="#000000"/>
<rect x="816" y="92" width="7" height="56" fill="#0000ff"/>
<rect x="832" y="92" width="1" height="47" fill="#000000"/>
<rect x="828" y="92" width="9" height="45" fill="#000000"/>
<rect x="829" y="93" width="7" height="43" fill="#ff0000"/>
<rect x="845" y="73" width="1" height="62" fill="#000000"/>
<rect x="841" y="75" width="9" height="57" fill="#000000"/>
<rect x="842" y="76" width="7" height="55" fill="#0000ff"/>
<rect x="857" y="58" width="1" height="22" fill="#000000"/>
<rect x="853" y="66" width="9" height="12" fill="#000000"/>
<rect x="854" y="67" width="7" height="10" fill="#ff0000"/>
<rect x="870" y="59" width="1" height="16" fill="#000000"/>
<rect x="866" y="59" width="9" height="16" fill="#000000"/>
<rect x="867" y="60" width="7" height="14" fill="#0000ff"/>
<rect x="705.5" y="218.5" width="25" height="28" fill="none" stroke="#000" stroke-width="1"/>
<polyline points="7,340 19,339 32,338 45,336.4 57,335.5 70,334.4 83,333.2 95,332.7 108,332.3 121,331.8 133,331.3 146,330.7 159,330.2 172,329.8 184,322.8 197,316.6 210,311.25 222,305.3 235,297.5 248,288.75 260,280.9 273,272.8 286,264.7 299,257.8 311,252.2 324,245.9 337,231.9 349,220.9 362,213.1 375,198.75 387,190 400,186.25 413,181.1 426,174.4 438,174.1 451,174 464,175.6 476,179.1 489,181.1 502,181.9 514,183.4 527,184.5 540,185 552,185.8 565,186.6 578,186.9 591,187.2 603,187.8 616,188.1 629,189.8 641,190.2 654,190.9 667,191.7 679,191.7 692,192 705,192.8 718,192.8 730,192.8 743,193.1 756,193.1 768,193.1 781,192.7 794,191.1 806,190 819,188.4 832,186.9 845,185.3 857,183.3 870,180.9" fill="none" stroke="#ff0000" stroke-width="2" stroke-linejoin="round" shape-rendering="crispEdges"/>
<rect x="1" y="82" width="965" height="1" fill="#ff0000"/>
<path d="M20,71h1v1h-1zM19,72h2v1h-2zM19,73h2v1h-2zM18,74h1v1h-1zM20,74h1v1h-1zM18,75h1v1h-1zM20,75h1v1h-1zM17,76h1v1h-1zM20,76h1v1h-1zM17,77h5v1h-5zM20,78h1v1h-1zM20,79h1v1h-1zM24,71h3v1h-3zM23,72h1v1h-1zM27,72h1v1h-1zM27,73h1v1h-1zM27,74h1v1h-1zM25,75h2v1h-2zM27,76h1v1h-1zM27,77h1v1h-1zM23,78h1v1h-1zM27,78h1v1h-1zM24,79h3v1h-3zM32,71h1v1h-1zM31,72h2v1h-2zM31,73h2v1h-2zM30,74h1v1h-1zM32,74h1v1h-1zM30,75h1v1h-1zM32,75h1v1h-1zM29,76h1v1h-1zM32,76h1v1h-1zM29,77h5v1h-5zM32,78h1v1h-1zM32,79h1v1h-1zM35,71h5v1h-5zM39,72h1v1h-1zM38,73h1v1h-1zM38,74h1v1h-1zM37,75h1v1h-1zM37,76h1v1h-1zM36,77h1v1h-1zM36,78h1v1h-1zM36,79h1v1h-1zM41,79h1v1h-1zM44,71h5v1h-5zM48,72h1v1h-1zM47,73h1v1h-1zM47,74h1v1h-1zM46,75h1v1h-1zM46,76h1v1h-1zM45,77h1v1h-1zM45,78h1v1h-1zM45,79h1v1h-1zM52,71h1v1h-1zM50,72h3v1h-3zM52,73h1v1h-1zM52,74h1v1h-1zM52,75h1v1h-1zM52,76h1v1h-1zM52,77h1v1h-1zM52,78h1v1h-1zM52,79h1v1h-1zM58,71h1v1h-1zM56,72h3v1h-3zM58,73h1v1h-1zM58,74h1v1h-1zM58,75h1v1h-1zM58,76h1v1h-1zM58,77h1v1h-1zM58,78h1v1h-1zM58,79h1v1h-1zM63,71h3v1h-3zM62,72h1v1h-1zM66,72h1v1h-1zM62,73h1v1h-1zM66,73h1v1h-1zM62,74h1v1h-1zM66,74h1v1h-1zM63,75h3v1h-3zM62,76h1v1h-1zM66,76h1v1h-1zM62,77h1v1h-1zM66,77h1v1h-1zM62,78h1v1h-1zM66,78h1v1h-1zM63,79h3v1h-3z" fill="#ff0000"/>
<rect x="464" y="245" width="184" height="1" fill="#ff0000"/>
<rect x="648" y="244" width="185" height="1" fill="#ff0000"/>
<rect x="464" y="288" width="184" height="1" fill="#ff0000"/>
<rect x="648" y="287" width="185" height="1" fill="#ff0000"/>
<rect x="1" y="450" width="965" height="1" fill="#000080"/>
<rect x="1" y="470" width="965" height="1" fill="#000080"/>
<rect x="1" y="490" width="965" height="1" fill="#000080"/>
<polyline points="7,441.3 19,452 32,452.5 45,452.5 57,449.8 63,452 70,452.5 76,452.5 83,451 95,451 108,451.6 114,453.1 121,454.4 133,454.4 146,454.1 159,453.4 172,453.4 175,453.1 184,447.2 197,463.75 210,448.4 222,448.75 235,448.1 248,445.3 260,443.1 273,433.75 286,430.6 299,445.8 311,451.25 324,447.3 337,455.2 349,445 362,442.7 375,442.7 387,437.5 400,439.5 413,453.9 426,455.8 438,455.8 451,467.2 464,486.7 476,503.9 489,512.5 502,512.8 514,507.8 527,505.5 540,499 552,499 565,485.3 578,478 591,477.5 603,477.5 616,477.2 629,476.4 641,479.8 654,478.3 667,481 679,479.8 692,477.2 705,476.8 718,483.8 730,454.5 743,458.6 756,451.2 768,422.1 781,420.6 794,419.6 806,419.6 819,432.6 832,428.2 845,449.3 857,444.5 870,444.5" fill="none" stroke="#000080" stroke-width="2" stroke-linejoin="round" shape-rendering="crispEdges"/>
<rect x="1" y="486" width="157" height="1" fill="#ff0000"/>
<rect x="158" y="487" width="164" height="1" fill="#ff0000"/>
<rect x="322" y="488" width="162" height="1" fill="#ff0000"/>
<rect x="484" y="489" width="82" height="1" fill="#ff0000"/>
<rect x="718.5" y="461.5" width="12" height="19" fill="none" stroke="#000" stroke-width="1"/>
<text x="18" y="415" fill="#000080" font-size="13" text-anchor="start" textLength="137.3" lengthAdjust="spacingAndGlyphs" filter="url(#crisp)">DYMOI [Close, 10]:75.82452</text>
<rect x="1" y="572" width="965" height="1" fill="#ff0000"/>
<rect x="1" y="627" width="965" height="1" fill="#ff0000"/>
<polyline points="7,635.6 19,640.3 32,643.1 38,644.2 57,645 58,646 83,646 95,638 108,613.75 121,613.75 133,593.4 146,573.1 159,564 172,558.75 184,557.5 197,564 210,573.1 222,590.3 235,609.4 248,609.8 260,616.9 273,585.9 286,578.6 299,612.2 311,627.8 324,616.1 337,594.7 349,584.1 362,582.5 375,568.1 387,567.7 400,585.6 413,616.6 426,619.7 438,633.75 451,640.5 464,643.1 476,643.9 489,643.9 502,641.1 514,634.6 527,621 540,587.2 552,578.1 565,565 578,559.1 591,555.9 603,555.6 616,555.6 629,585.9 641,600 654,613.75 667,613 679,598.4 692,582.5 705,569.2 718,560.6 730,558.3 743,557.8 756,556.25 768,555.6 781,559.8 794,568.1 806,606.7 819,598.9 832,621.9 845,607.5 857,603.6 870,580.6" fill="none" stroke="#ff0000" stroke-width="2" stroke-linejoin="round" shape-rendering="crispEdges"/>
<rect x="1" y="553" width="965" height="2" fill="#000000"/>
<rect x="1" y="645" width="965" height="2" fill="#000000"/>
<rect x="514.5" y="612.5" width="26" height="27" fill="none" stroke="#000" stroke-width="1"/>
<text x="18" y="549" fill="#ff0000" font-size="13" text-anchor="start" textLength="166" lengthAdjust="spacingAndGlyphs" filter="url(#crisp)">DSS-BRESSERT [8, 3]:71.618613</text>
<path d="M19,542h1v1h-1zM17,543h3v1h-3zM19,544h1v1h-1zM19,545h1v1h-1zM19,546h1v1h-1zM19,547h1v1h-1zM19,548h1v1h-1zM19,549h1v1h-1zM19,550h1v1h-1zM24,542h3v1h-3zM23,543h1v1h-1zM27,543h1v1h-1zM23,544h1v1h-1zM27,544h1v1h-1zM23,545h1v1h-1zM27,545h1v1h-1zM23,546h1v1h-1zM27,546h1v1h-1zM23,547h1v1h-1zM27,547h1v1h-1zM23,548h1v1h-1zM27,548h1v1h-1zM23,549h1v1h-1zM27,549h1v1h-1zM24,550h3v1h-3zM30,542h3v1h-3zM29,543h1v1h-1zM33,543h1v1h-1zM29,544h1v1h-1zM33,544h1v1h-1zM29,545h1v1h-1zM33,545h1v1h-1zM29,546h1v1h-1zM33,546h1v1h-1zM29,547h1v1h-1zM33,547h1v1h-1zM29,548h1v1h-1zM33,548h1v1h-1zM29,549h1v1h-1zM33,549h1v1h-1zM30,550h3v1h-3z" fill="#000000"/>
<path d="M18,634h3v1h-3zM17,635h1v1h-1zM21,635h1v1h-1zM17,636h1v1h-1zM21,636h1v1h-1zM17,637h1v1h-1zM21,637h1v1h-1zM17,638h1v1h-1zM21,638h1v1h-1zM17,639h1v1h-1zM21,639h1v1h-1zM17,640h1v1h-1zM21,640h1v1h-1zM17,641h1v1h-1zM21,641h1v1h-1zM18,642h3v1h-3z" fill="#000000"/>
<rect x="9" y="4" width="1" height="10" fill="#000000"/>
<rect x="6" y="6" width="7" height="6" fill="#000000"/>
<rect x="7" y="7" width="5" height="4" fill="#0000ff"/>
<path d="M4,18h1v1h-1zM4,19h1v1h-1zM4,27h1v1h-1zM4,28h1v1h-1zM5,20h1v1h-1zM5,21h1v1h-1zM5,25h1v1h-1zM5,26h1v1h-1zM6,22h1v1h-1zM6,23h1v1h-1zM6,24h1v1h-1zM7,21h1v1h-1zM7,22h1v1h-1zM7,24h1v1h-1zM7,25h1v1h-1zM8,19h1v1h-1zM8,20h1v1h-1zM8,26h1v1h-1zM8,27h1v1h-1zM9,18h1v1h-1zM9,28h1v1h-1zM10,19h1v1h-1zM10,20h1v1h-1zM10,26h1v1h-1zM10,27h1v1h-1zM11,21h1v1h-1zM11,22h1v1h-1zM11,24h1v1h-1zM11,25h1v1h-1zM12,23h1v1h-1zM13,21h1v1h-1zM13,22h1v1h-1zM13,24h1v1h-1zM13,25h1v1h-1zM14,19h1v1h-1zM14,20h1v1h-1zM14,26h1v1h-1zM14,27h1v1h-1z" fill="#ff0000"/>
<path d="M4,405h1v1h-1zM4,406h1v1h-1zM4,414h1v1h-1zM4,415h1v1h-1zM5,407h1v1h-1zM5,408h1v1h-1zM5,412h1v1h-1zM5,413h1v1h-1zM6,409h1v1h-1zM6,410h1v1h-1zM6,411h1v1h-1zM7,408h1v1h-1zM7,409h1v1h-1zM7,411h1v1h-1zM7,412h1v1h-1zM8,406h1v1h-1zM8,407h1v1h-1zM8,413h1v1h-1zM8,414h1v1h-1zM9,405h1v1h-1zM9,415h1v1h-1zM10,406h1v1h-1zM10,407h1v1h-1zM10,413h1v1h-1zM10,414h1v1h-1zM11,408h1v1h-1zM11,409h1v1h-1zM11,411h1v1h-1zM11,412h1v1h-1zM12,410h1v1h-1zM13,408h1v1h-1zM13,409h1v1h-1zM13,411h1v1h-1zM13,412h1v1h-1zM14,406h1v1h-1zM14,407h1v1h-1zM14,413h1v1h-1zM14,414h1v1h-1z" fill="#000080"/>
<path d="M4,539h1v1h-1zM4,540h1v1h-1zM4,548h1v1h-1zM4,549h1v1h-1zM5,541h1v1h-1zM5,542h1v1h-1zM5,546h1v1h-1zM5,547h1v1h-1zM6,543h1v1h-1zM6,544h1v1h-1zM6,545h1v1h-1zM7,542h1v1h-1zM7,543h1v1h-1zM7,545h1v1h-1zM7,546h1v1h-1zM8,540h1v1h-1zM8,541h1v1h-1zM8,547h1v1h-1zM8,548h1v1h-1zM9,539h1v1h-1zM9,549h1v1h-1zM10,540h1v1h-1zM10,541h1v1h-1zM10,547h1v1h-1zM10,548h1v1h-1zM11,542h1v1h-1zM11,543h1v1h-1zM11,545h1v1h-1zM11,546h1v1h-1zM12,544h1v1h-1zM13,542h1v1h-1zM13,543h1v1h-1zM13,545h1v1h-1zM13,546h1v1h-1zM14,540h1v1h-1zM14,541h1v1h-1zM14,547h1v1h-1zM14,548h1v1h-1z" fill="#ff0000"/></svg></body></html>
